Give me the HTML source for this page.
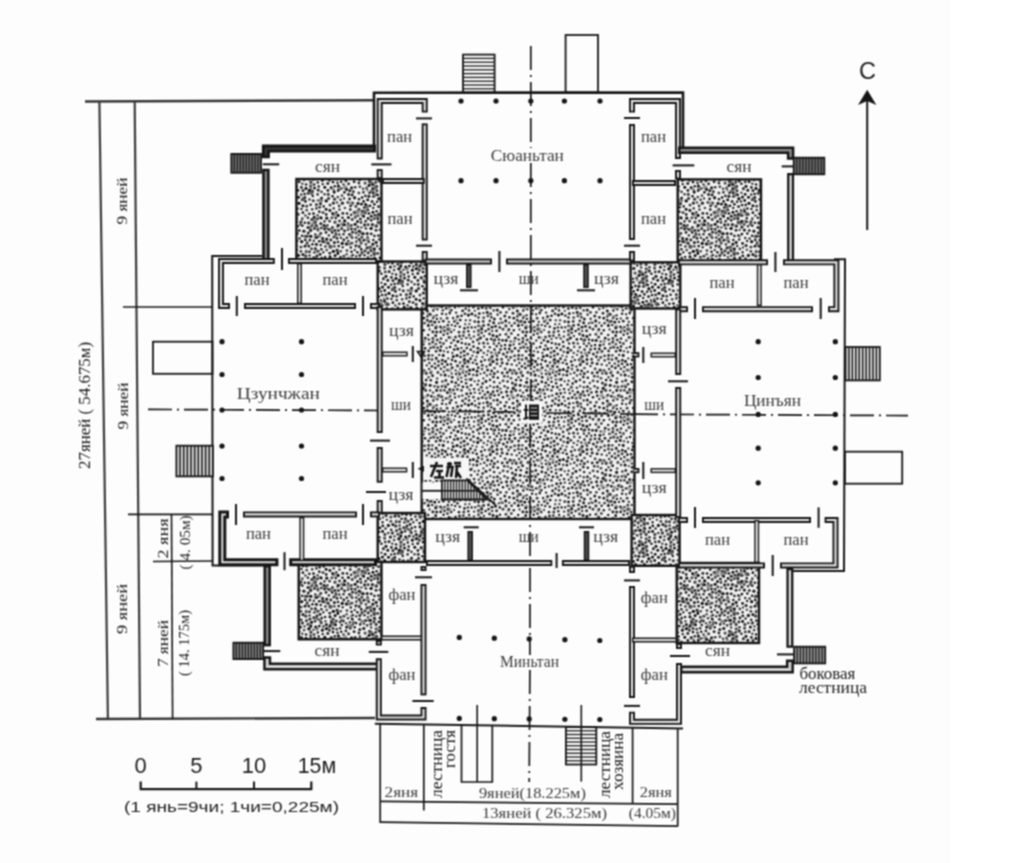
<!DOCTYPE html>
<html><head><meta charset="utf-8"><style>
html,body{margin:0;padding:0;background:#fff;}
svg{display:block;}
text{fill:#1c1c1c;} text.b{fill:#3a3a3a;}
</style></head><body>
<svg width="1031" height="863" viewBox="0 0 1031 863">
<defs><pattern id="st" width="90" height="90" patternUnits="userSpaceOnUse"><rect width="90" height="90" fill="#f3f3f3"/><circle cx="20.4" cy="43.0" r="2.18" fill="rgb(128,128,128)"/><circle cx="40.0" cy="78.8" r="1.61" fill="rgb(119,119,119)"/><circle cx="40.7" cy="5.6" r="1.76" fill="rgb(131,131,131)"/><circle cx="8.6" cy="80.3" r="1.46" fill="rgb(121,121,121)"/><circle cx="13.2" cy="3.8" r="2.17" fill="rgb(159,159,159)"/><circle cx="52.6" cy="60.9" r="1.86" fill="rgb(112,112,112)"/><circle cx="14.9" cy="79.2" r="1.58" fill="rgb(132,132,132)"/><circle cx="11.5" cy="11.2" r="1.78" fill="rgb(105,105,105)"/><circle cx="46.3" cy="71.6" r="2.05" fill="rgb(159,159,159)"/><circle cx="56.2" cy="61.9" r="2.31" fill="rgb(148,148,148)"/><circle cx="79.4" cy="64.1" r="1.71" fill="rgb(119,119,119)"/><circle cx="85.7" cy="35.8" r="2.05" fill="rgb(159,159,159)"/><circle cx="4.6" cy="31.5" r="2.01" fill="rgb(107,107,107)"/><circle cx="7.6" cy="59.6" r="2.26" fill="rgb(138,138,138)"/><circle cx="45.5" cy="45.5" r="1.52" fill="rgb(135,135,135)"/><circle cx="80.9" cy="55.8" r="2.05" fill="rgb(138,138,138)"/><circle cx="85.3" cy="49.3" r="1.56" fill="rgb(104,104,104)"/><circle cx="2.1" cy="34.4" r="2.09" fill="rgb(144,144,144)"/><circle cx="92.1" cy="34.4" r="2.09" fill="rgb(144,144,144)"/><circle cx="19.7" cy="56.3" r="1.65" fill="rgb(159,159,159)"/><circle cx="43.5" cy="39.4" r="2.16" fill="rgb(131,131,131)"/><circle cx="45.7" cy="78.0" r="1.66" fill="rgb(109,109,109)"/><circle cx="0.6" cy="61.4" r="1.53" fill="rgb(146,146,146)"/><circle cx="90.6" cy="61.4" r="1.53" fill="rgb(146,146,146)"/><circle cx="39.3" cy="-1.7" r="1.87" fill="rgb(102,102,102)"/><circle cx="39.3" cy="88.3" r="1.87" fill="rgb(102,102,102)"/><circle cx="86.2" cy="65.2" r="1.65" fill="rgb(151,151,151)"/><circle cx="6.8" cy="26.5" r="2.27" fill="rgb(114,114,114)"/><circle cx="14.6" cy="8.9" r="2.39" fill="rgb(144,144,144)"/><circle cx="15.5" cy="13.4" r="1.89" fill="rgb(153,153,153)"/><circle cx="17.4" cy="36.1" r="2.33" fill="rgb(123,123,123)"/><circle cx="63.7" cy="10.1" r="1.49" fill="rgb(122,122,122)"/><circle cx="36.6" cy="64.0" r="1.61" fill="rgb(124,124,124)"/><circle cx="55.6" cy="47.1" r="2.35" fill="rgb(114,114,114)"/><circle cx="24.2" cy="28.9" r="1.43" fill="rgb(123,123,123)"/><circle cx="30.4" cy="44.3" r="1.63" fill="rgb(101,101,101)"/><circle cx="40.8" cy="83.4" r="2.06" fill="rgb(152,152,152)"/><circle cx="40.6" cy="9.8" r="1.80" fill="rgb(117,117,117)"/><circle cx="21.5" cy="32.3" r="1.54" fill="rgb(148,148,148)"/><circle cx="33.5" cy="19.1" r="2.25" fill="rgb(104,104,104)"/><circle cx="75.2" cy="7.6" r="2.31" fill="rgb(149,149,149)"/><circle cx="43.0" cy="43.6" r="1.80" fill="rgb(141,141,141)"/><circle cx="39.4" cy="12.2" r="2.00" fill="rgb(109,109,109)"/><circle cx="64.2" cy="34.6" r="2.20" fill="rgb(151,151,151)"/><circle cx="24.9" cy="41.1" r="1.51" fill="rgb(139,139,139)"/><circle cx="35.4" cy="56.4" r="2.02" fill="rgb(100,100,100)"/><circle cx="-2.5" cy="31.9" r="2.29" fill="rgb(139,139,139)"/><circle cx="87.5" cy="31.9" r="2.29" fill="rgb(139,139,139)"/><circle cx="80.3" cy="86.3" r="2.14" fill="rgb(122,122,122)"/><circle cx="48.9" cy="56.1" r="1.95" fill="rgb(103,103,103)"/><circle cx="15.7" cy="46.0" r="2.09" fill="rgb(159,159,159)"/><circle cx="60.9" cy="49.9" r="2.10" fill="rgb(126,126,126)"/><circle cx="10.7" cy="67.9" r="2.09" fill="rgb(151,151,151)"/><circle cx="57.7" cy="-1.7" r="1.96" fill="rgb(129,129,129)"/><circle cx="57.7" cy="88.3" r="1.96" fill="rgb(129,129,129)"/><circle cx="63.8" cy="83.8" r="2.13" fill="rgb(106,106,106)"/><circle cx="19.5" cy="34.4" r="2.26" fill="rgb(121,121,121)"/><circle cx="78.2" cy="85.5" r="1.61" fill="rgb(143,143,143)"/><circle cx="10.5" cy="80.1" r="1.67" fill="rgb(131,131,131)"/><circle cx="66.3" cy="55.5" r="1.41" fill="rgb(143,143,143)"/><circle cx="14.0" cy="72.3" r="2.13" fill="rgb(136,136,136)"/><circle cx="47.8" cy="48.5" r="1.68" fill="rgb(120,120,120)"/><circle cx="49.5" cy="37.4" r="1.55" fill="rgb(160,160,160)"/><circle cx="41.8" cy="13.5" r="1.84" fill="rgb(106,106,106)"/><circle cx="16.0" cy="6.9" r="2.06" fill="rgb(101,101,101)"/><circle cx="1.5" cy="53.0" r="1.89" fill="rgb(128,128,128)"/><circle cx="91.5" cy="53.0" r="1.89" fill="rgb(128,128,128)"/><circle cx="78.3" cy="46.5" r="2.16" fill="rgb(140,140,140)"/><circle cx="62.5" cy="80.0" r="2.25" fill="rgb(135,135,135)"/><circle cx="31.1" cy="41.8" r="2.00" fill="rgb(142,142,142)"/><circle cx="83.6" cy="82.3" r="1.67" fill="rgb(101,101,101)"/><circle cx="60.4" cy="66.8" r="2.36" fill="rgb(123,123,123)"/><circle cx="40.1" cy="47.7" r="1.97" fill="rgb(129,129,129)"/><circle cx="50.3" cy="80.4" r="1.61" fill="rgb(110,110,110)"/><circle cx="80.9" cy="76.5" r="1.62" fill="rgb(154,154,154)"/><circle cx="71.5" cy="80.3" r="1.59" fill="rgb(114,114,114)"/><circle cx="10.8" cy="2.4" r="2.12" fill="rgb(119,119,119)"/><circle cx="10.8" cy="92.4" r="2.12" fill="rgb(119,119,119)"/><circle cx="67.5" cy="46.8" r="1.60" fill="rgb(144,144,144)"/><circle cx="14.6" cy="15.9" r="1.68" fill="rgb(119,119,119)"/><circle cx="47.1" cy="-1.1" r="1.84" fill="rgb(131,131,131)"/><circle cx="47.1" cy="88.9" r="1.84" fill="rgb(131,131,131)"/><circle cx="81.3" cy="23.8" r="2.29" fill="rgb(159,159,159)"/><circle cx="26.6" cy="34.1" r="2.29" fill="rgb(116,116,116)"/><circle cx="49.4" cy="55.3" r="1.65" fill="rgb(141,141,141)"/><circle cx="67.6" cy="71.2" r="1.73" fill="rgb(117,117,117)"/><circle cx="36.2" cy="70.8" r="1.50" fill="rgb(149,149,149)"/><circle cx="35.4" cy="76.0" r="1.83" fill="rgb(129,129,129)"/><circle cx="82.1" cy="23.4" r="2.22" fill="rgb(153,153,153)"/><circle cx="72.3" cy="44.4" r="2.23" fill="rgb(130,130,130)"/><circle cx="-0.8" cy="66.7" r="1.91" fill="rgb(157,157,157)"/><circle cx="89.2" cy="66.7" r="1.91" fill="rgb(157,157,157)"/><circle cx="7.3" cy="9.9" r="1.67" fill="rgb(146,146,146)"/><circle cx="2.1" cy="81.5" r="2.08" fill="rgb(135,135,135)"/><circle cx="92.1" cy="81.5" r="2.08" fill="rgb(135,135,135)"/><circle cx="69.3" cy="8.5" r="2.29" fill="rgb(143,143,143)"/><circle cx="61.4" cy="84.3" r="1.91" fill="rgb(138,138,138)"/><circle cx="9.3" cy="67.4" r="1.66" fill="rgb(118,118,118)"/><circle cx="45.3" cy="57.5" r="1.67" fill="rgb(134,134,134)"/><circle cx="50.9" cy="20.6" r="2.24" fill="rgb(132,132,132)"/><circle cx="40.7" cy="50.4" r="1.66" fill="rgb(44,44,44)"/><circle cx="41.9" cy="45.7" r="1.49" fill="rgb(75,75,75)"/><circle cx="16.6" cy="46.1" r="1.51" fill="rgb(49,49,49)"/><circle cx="71.4" cy="8.5" r="1.35" fill="rgb(67,67,67)"/><circle cx="8.2" cy="72.9" r="1.55" fill="rgb(57,57,57)"/><circle cx="3.8" cy="-1.6" r="1.68" fill="rgb(42,42,42)"/><circle cx="3.8" cy="88.4" r="1.68" fill="rgb(42,42,42)"/><circle cx="58.9" cy="55.4" r="1.28" fill="rgb(62,62,62)"/><circle cx="1.4" cy="47.6" r="1.23" fill="rgb(69,69,69)"/><circle cx="91.4" cy="47.6" r="1.23" fill="rgb(69,69,69)"/><circle cx="17.1" cy="21.8" r="1.22" fill="rgb(24,24,24)"/><circle cx="41.8" cy="39.6" r="1.62" fill="rgb(67,67,67)"/><circle cx="46.7" cy="57.6" r="1.45" fill="rgb(16,16,16)"/><circle cx="59.6" cy="41.2" r="1.34" fill="rgb(49,49,49)"/><circle cx="-0.2" cy="-0.4" r="1.62" fill="rgb(51,51,51)"/><circle cx="-0.2" cy="89.6" r="1.62" fill="rgb(51,51,51)"/><circle cx="89.8" cy="-0.4" r="1.62" fill="rgb(51,51,51)"/><circle cx="89.8" cy="89.6" r="1.62" fill="rgb(51,51,51)"/><circle cx="63.7" cy="28.4" r="1.31" fill="rgb(62,62,62)"/><circle cx="26.0" cy="6.3" r="1.58" fill="rgb(27,27,27)"/><circle cx="36.0" cy="76.2" r="1.39" fill="rgb(60,60,60)"/><circle cx="86.2" cy="76.3" r="1.20" fill="rgb(50,50,50)"/><circle cx="18.9" cy="81.9" r="1.43" fill="rgb(31,31,31)"/><circle cx="-1.8" cy="35.8" r="1.24" fill="rgb(65,65,65)"/><circle cx="88.2" cy="35.8" r="1.24" fill="rgb(65,65,65)"/><circle cx="56.7" cy="70.1" r="1.33" fill="rgb(62,62,62)"/><circle cx="7.8" cy="29.9" r="1.68" fill="rgb(71,71,71)"/><circle cx="68.2" cy="10.6" r="1.32" fill="rgb(12,12,12)"/><circle cx="9.1" cy="5.4" r="1.60" fill="rgb(22,22,22)"/><circle cx="16.0" cy="50.3" r="1.42" fill="rgb(22,22,22)"/><circle cx="17.2" cy="65.9" r="1.27" fill="rgb(46,46,46)"/><circle cx="57.9" cy="10.5" r="1.41" fill="rgb(32,32,32)"/><circle cx="87.4" cy="72.3" r="1.35" fill="rgb(34,34,34)"/><circle cx="79.6" cy="19.0" r="1.40" fill="rgb(22,22,22)"/><circle cx="76.9" cy="57.8" r="1.25" fill="rgb(22,22,22)"/><circle cx="-1.0" cy="19.2" r="1.33" fill="rgb(37,37,37)"/><circle cx="89.0" cy="19.2" r="1.33" fill="rgb(37,37,37)"/><circle cx="69.5" cy="29.6" r="1.35" fill="rgb(69,69,69)"/><circle cx="6.6" cy="8.1" r="1.49" fill="rgb(73,73,73)"/><circle cx="21.9" cy="54.1" r="1.39" fill="rgb(20,20,20)"/><circle cx="40.8" cy="86.3" r="1.44" fill="rgb(14,14,14)"/><circle cx="51.7" cy="78.0" r="1.29" fill="rgb(21,21,21)"/><circle cx="13.9" cy="81.8" r="1.61" fill="rgb(60,60,60)"/><circle cx="22.5" cy="17.1" r="1.57" fill="rgb(28,28,28)"/><circle cx="84.6" cy="17.7" r="1.68" fill="rgb(28,28,28)"/><circle cx="79.4" cy="54.3" r="1.41" fill="rgb(41,41,41)"/><circle cx="63.4" cy="23.1" r="1.61" fill="rgb(40,40,40)"/><circle cx="53.7" cy="26.4" r="1.29" fill="rgb(33,33,33)"/><circle cx="64.8" cy="6.2" r="1.31" fill="rgb(31,31,31)"/><circle cx="1.5" cy="24.2" r="1.42" fill="rgb(11,11,11)"/><circle cx="91.5" cy="24.2" r="1.42" fill="rgb(11,11,11)"/><circle cx="5.4" cy="15.9" r="1.38" fill="rgb(43,43,43)"/><circle cx="51.5" cy="11.8" r="1.38" fill="rgb(64,64,64)"/><circle cx="80.2" cy="-1.8" r="1.53" fill="rgb(71,71,71)"/><circle cx="80.2" cy="88.2" r="1.53" fill="rgb(71,71,71)"/><circle cx="62.2" cy="52.6" r="1.27" fill="rgb(18,18,18)"/><circle cx="81.9" cy="63.1" r="1.68" fill="rgb(74,74,74)"/><circle cx="1.9" cy="57.3" r="1.44" fill="rgb(58,58,58)"/><circle cx="91.9" cy="57.3" r="1.44" fill="rgb(58,58,58)"/><circle cx="-0.1" cy="6.8" r="1.47" fill="rgb(73,73,73)"/><circle cx="89.9" cy="6.8" r="1.47" fill="rgb(73,73,73)"/><circle cx="66.3" cy="81.0" r="1.57" fill="rgb(63,63,63)"/><circle cx="63.3" cy="71.4" r="1.66" fill="rgb(11,11,11)"/><circle cx="31.7" cy="61.7" r="1.65" fill="rgb(18,18,18)"/><circle cx="78.4" cy="37.5" r="1.60" fill="rgb(26,26,26)"/><circle cx="56.2" cy="34.4" r="1.49" fill="rgb(43,43,43)"/><circle cx="54.8" cy="7.2" r="1.52" fill="rgb(11,11,11)"/><circle cx="-0.6" cy="79.2" r="1.56" fill="rgb(68,68,68)"/><circle cx="89.4" cy="79.2" r="1.56" fill="rgb(68,68,68)"/><circle cx="35.0" cy="66.2" r="1.49" fill="rgb(29,29,29)"/><circle cx="39.6" cy="75.5" r="1.24" fill="rgb(50,50,50)"/><circle cx="67.5" cy="2.7" r="1.50" fill="rgb(75,75,75)"/><circle cx="43.3" cy="20.7" r="1.55" fill="rgb(54,54,54)"/><circle cx="82.8" cy="23.0" r="1.21" fill="rgb(68,68,68)"/><circle cx="27.1" cy="61.0" r="1.30" fill="rgb(40,40,40)"/><circle cx="80.3" cy="29.4" r="1.53" fill="rgb(67,67,67)"/><circle cx="17.9" cy="38.8" r="1.60" fill="rgb(40,40,40)"/><circle cx="82.3" cy="79.2" r="1.39" fill="rgb(19,19,19)"/><circle cx="12.3" cy="44.7" r="1.62" fill="rgb(40,40,40)"/><circle cx="76.4" cy="64.0" r="1.68" fill="rgb(29,29,29)"/><circle cx="40.6" cy="24.8" r="1.31" fill="rgb(22,22,22)"/><circle cx="37.3" cy="56.3" r="1.45" fill="rgb(55,55,55)"/><circle cx="28.4" cy="75.5" r="1.69" fill="rgb(34,34,34)"/><circle cx="40.7" cy="6.7" r="1.22" fill="rgb(56,56,56)"/><circle cx="78.6" cy="3.7" r="1.55" fill="rgb(56,56,56)"/><circle cx="71.2" cy="1.7" r="1.27" fill="rgb(23,23,23)"/><circle cx="71.2" cy="91.7" r="1.27" fill="rgb(23,23,23)"/><circle cx="40.9" cy="2.2" r="1.61" fill="rgb(61,61,61)"/><circle cx="21.4" cy="12.7" r="1.22" fill="rgb(62,62,62)"/><circle cx="56.7" cy="59.0" r="1.60" fill="rgb(21,21,21)"/><circle cx="86.3" cy="61.6" r="1.30" fill="rgb(50,50,50)"/><circle cx="42.8" cy="16.1" r="1.21" fill="rgb(16,16,16)"/><circle cx="42.5" cy="64.3" r="1.29" fill="rgb(27,27,27)"/><circle cx="24.5" cy="31.1" r="1.55" fill="rgb(32,32,32)"/><circle cx="68.1" cy="35.4" r="1.60" fill="rgb(12,12,12)"/><circle cx="81.6" cy="7.8" r="1.67" fill="rgb(39,39,39)"/><circle cx="40.8" cy="56.3" r="1.65" fill="rgb(13,13,13)"/><circle cx="33.9" cy="51.2" r="1.64" fill="rgb(33,33,33)"/><circle cx="71.7" cy="85.0" r="1.43" fill="rgb(55,55,55)"/><circle cx="58.6" cy="18.4" r="1.56" fill="rgb(56,56,56)"/><circle cx="64.6" cy="19.2" r="1.65" fill="rgb(60,60,60)"/><circle cx="48.3" cy="71.2" r="1.36" fill="rgb(58,58,58)"/><circle cx="31.4" cy="7.4" r="1.42" fill="rgb(30,30,30)"/><circle cx="72.0" cy="15.6" r="1.37" fill="rgb(66,66,66)"/><circle cx="65.1" cy="75.6" r="1.54" fill="rgb(17,17,17)"/><circle cx="85.1" cy="44.3" r="1.67" fill="rgb(26,26,26)"/><circle cx="7.7" cy="19.9" r="1.46" fill="rgb(11,11,11)"/><circle cx="26.1" cy="65.6" r="1.52" fill="rgb(30,30,30)"/><circle cx="47.1" cy="75.9" r="1.48" fill="rgb(34,34,34)"/><circle cx="28.1" cy="34.3" r="1.62" fill="rgb(66,66,66)"/><circle cx="76.6" cy="87.2" r="1.46" fill="rgb(35,35,35)"/><circle cx="51.6" cy="18.1" r="1.47" fill="rgb(28,28,28)"/><circle cx="45.3" cy="54.5" r="1.21" fill="rgb(24,24,24)"/><circle cx="36.1" cy="72.1" r="1.48" fill="rgb(69,69,69)"/><circle cx="5.9" cy="48.5" r="1.41" fill="rgb(71,71,71)"/><circle cx="86.1" cy="83.1" r="1.33" fill="rgb(25,25,25)"/><circle cx="42.6" cy="11.4" r="1.42" fill="rgb(60,60,60)"/><circle cx="73.4" cy="81.0" r="1.44" fill="rgb(43,43,43)"/><circle cx="28.5" cy="17.2" r="1.51" fill="rgb(21,21,21)"/><circle cx="83.3" cy="11.7" r="1.59" fill="rgb(69,69,69)"/><circle cx="2.1" cy="17.5" r="1.31" fill="rgb(11,11,11)"/><circle cx="32.0" cy="55.8" r="1.25" fill="rgb(31,31,31)"/><circle cx="39.3" cy="33.8" r="1.41" fill="rgb(42,42,42)"/><circle cx="47.6" cy="14.4" r="1.30" fill="rgb(41,41,41)"/><circle cx="55.1" cy="77.1" r="1.32" fill="rgb(35,35,35)"/><circle cx="28.3" cy="83.0" r="1.31" fill="rgb(59,59,59)"/><circle cx="12.1" cy="21.5" r="1.56" fill="rgb(39,39,39)"/><circle cx="23.4" cy="8.7" r="1.62" fill="rgb(55,55,55)"/><circle cx="11.3" cy="36.3" r="1.54" fill="rgb(28,28,28)"/><circle cx="61.4" cy="82.0" r="1.68" fill="rgb(54,54,54)"/><circle cx="68.2" cy="45.3" r="1.54" fill="rgb(10,10,10)"/><circle cx="17.0" cy="6.3" r="1.25" fill="rgb(64,64,64)"/><circle cx="13.2" cy="16.6" r="1.30" fill="rgb(47,47,47)"/><circle cx="41.6" cy="68.8" r="1.36" fill="rgb(40,40,40)"/><circle cx="1.2" cy="63.1" r="1.62" fill="rgb(75,75,75)"/><circle cx="91.2" cy="63.1" r="1.62" fill="rgb(75,75,75)"/><circle cx="17.6" cy="14.9" r="1.46" fill="rgb(16,16,16)"/><circle cx="72.2" cy="63.4" r="1.63" fill="rgb(10,10,10)"/><circle cx="54.0" cy="45.4" r="1.69" fill="rgb(49,49,49)"/><circle cx="72.4" cy="23.2" r="1.66" fill="rgb(37,37,37)"/><circle cx="67.0" cy="70.0" r="1.61" fill="rgb(49,49,49)"/><circle cx="36.5" cy="80.7" r="1.64" fill="rgb(70,70,70)"/><circle cx="30.8" cy="42.2" r="1.21" fill="rgb(55,55,55)"/><circle cx="56.2" cy="20.9" r="1.67" fill="rgb(11,11,11)"/><circle cx="59.9" cy="30.4" r="1.53" fill="rgb(32,32,32)"/><circle cx="51.3" cy="48.0" r="1.39" fill="rgb(54,54,54)"/><circle cx="55.4" cy="66.5" r="1.33" fill="rgb(36,36,36)"/><circle cx="36.1" cy="4.5" r="1.30" fill="rgb(25,25,25)"/><circle cx="22.6" cy="81.5" r="1.48" fill="rgb(12,12,12)"/><circle cx="45.7" cy="87.0" r="1.48" fill="rgb(20,20,20)"/><circle cx="4.1" cy="83.7" r="1.28" fill="rgb(73,73,73)"/><circle cx="37.9" cy="47.4" r="1.50" fill="rgb(37,37,37)"/><circle cx="32.9" cy="25.7" r="1.53" fill="rgb(16,16,16)"/><circle cx="80.8" cy="67.4" r="1.23" fill="rgb(21,21,21)"/><circle cx="38.7" cy="43.0" r="1.69" fill="rgb(52,52,52)"/><circle cx="21.9" cy="47.1" r="1.67" fill="rgb(39,39,39)"/><circle cx="65.0" cy="42.2" r="1.69" fill="rgb(74,74,74)"/><circle cx="73.5" cy="54.3" r="1.26" fill="rgb(40,40,40)"/><circle cx="39.9" cy="60.1" r="1.43" fill="rgb(29,29,29)"/><circle cx="85.7" cy="66.1" r="1.32" fill="rgb(42,42,42)"/><circle cx="10.2" cy="80.3" r="1.59" fill="rgb(27,27,27)"/><circle cx="50.8" cy="53.3" r="1.52" fill="rgb(64,64,64)"/><circle cx="67.8" cy="17.1" r="1.32" fill="rgb(60,60,60)"/><circle cx="5.5" cy="24.4" r="1.41" fill="rgb(12,12,12)"/><circle cx="48.7" cy="6.5" r="1.24" fill="rgb(12,12,12)"/><circle cx="30.9" cy="67.0" r="1.62" fill="rgb(71,71,71)"/><circle cx="72.9" cy="33.2" r="1.53" fill="rgb(44,44,44)"/><circle cx="-1.0" cy="29.3" r="1.47" fill="rgb(68,68,68)"/><circle cx="89.0" cy="29.3" r="1.47" fill="rgb(68,68,68)"/><circle cx="50.8" cy="43.6" r="1.54" fill="rgb(41,41,41)"/><circle cx="26.9" cy="69.8" r="1.24" fill="rgb(74,74,74)"/><circle cx="19.2" cy="59.6" r="1.24" fill="rgb(29,29,29)"/><circle cx="12.9" cy="32.2" r="1.56" fill="rgb(20,20,20)"/><circle cx="33.0" cy="10.6" r="1.55" fill="rgb(48,48,48)"/><circle cx="51.2" cy="82.7" r="1.67" fill="rgb(65,65,65)"/><circle cx="82.2" cy="39.4" r="1.60" fill="rgb(71,71,71)"/><circle cx="27.4" cy="28.6" r="1.40" fill="rgb(34,34,34)"/><circle cx="32.9" cy="32.7" r="1.40" fill="rgb(19,19,19)"/><circle cx="34.9" cy="17.5" r="1.48" fill="rgb(50,50,50)"/><circle cx="71.7" cy="48.7" r="1.62" fill="rgb(67,67,67)"/><circle cx="25.3" cy="2.0" r="1.46" fill="rgb(64,64,64)"/><circle cx="7.6" cy="57.1" r="1.27" fill="rgb(71,71,71)"/><circle cx="67.1" cy="58.4" r="1.32" fill="rgb(28,28,28)"/><circle cx="19.8" cy="68.9" r="1.46" fill="rgb(65,65,65)"/><circle cx="30.4" cy="87.1" r="1.54" fill="rgb(26,26,26)"/><circle cx="44.4" cy="48.4" r="1.56" fill="rgb(62,62,62)"/><circle cx="60.0" cy="76.8" r="1.60" fill="rgb(27,27,27)"/><circle cx="86.2" cy="57.6" r="1.46" fill="rgb(61,61,61)"/><circle cx="37.9" cy="37.8" r="1.27" fill="rgb(21,21,21)"/><circle cx="66.7" cy="-0.8" r="1.39" fill="rgb(67,67,67)"/><circle cx="66.7" cy="89.2" r="1.39" fill="rgb(67,67,67)"/><circle cx="27.8" cy="10.3" r="1.52" fill="rgb(21,21,21)"/><circle cx="5.6" cy="41.3" r="1.49" fill="rgb(61,61,61)"/><circle cx="79.9" cy="82.3" r="1.37" fill="rgb(66,66,66)"/><circle cx="49.3" cy="86.1" r="1.44" fill="rgb(20,20,20)"/><circle cx="46.4" cy="24.7" r="1.70" fill="rgb(72,72,72)"/><circle cx="1.0" cy="42.5" r="1.39" fill="rgb(51,51,51)"/><circle cx="91.0" cy="42.5" r="1.39" fill="rgb(51,51,51)"/><circle cx="54.5" cy="14.2" r="1.28" fill="rgb(52,52,52)"/><circle cx="29.0" cy="23.3" r="1.63" fill="rgb(12,12,12)"/><circle cx="73.9" cy="76.2" r="1.61" fill="rgb(73,73,73)"/><circle cx="86.0" cy="52.8" r="1.63" fill="rgb(75,75,75)"/><circle cx="74.9" cy="28.0" r="1.36" fill="rgb(68,68,68)"/><circle cx="35.3" cy="60.0" r="1.33" fill="rgb(17,17,17)"/><circle cx="50.7" cy="65.1" r="1.37" fill="rgb(44,44,44)"/><circle cx="12.7" cy="8.5" r="1.54" fill="rgb(40,40,40)"/><circle cx="63.0" cy="-1.6" r="1.59" fill="rgb(67,67,67)"/><circle cx="63.0" cy="88.4" r="1.59" fill="rgb(67,67,67)"/><circle cx="14.3" cy="69.0" r="1.65" fill="rgb(25,25,25)"/><circle cx="49.3" cy="31.7" r="1.45" fill="rgb(46,46,46)"/><circle cx="12.8" cy="64.2" r="1.69" fill="rgb(42,42,42)"/><circle cx="46.4" cy="64.4" r="1.62" fill="rgb(41,41,41)"/><circle cx="11.2" cy="87.6" r="1.27" fill="rgb(63,63,63)"/><circle cx="81.4" cy="48.9" r="1.48" fill="rgb(40,40,40)"/><circle cx="50.4" cy="23.8" r="1.65" fill="rgb(42,42,42)"/><circle cx="16.2" cy="-1.2" r="1.67" fill="rgb(74,74,74)"/><circle cx="16.2" cy="88.8" r="1.67" fill="rgb(74,74,74)"/><circle cx="60.4" cy="66.4" r="1.39" fill="rgb(66,66,66)"/><circle cx="53.3" cy="72.3" r="1.21" fill="rgb(44,44,44)"/><circle cx="57.8" cy="3.4" r="1.54" fill="rgb(48,48,48)"/><circle cx="47.3" cy="38.9" r="1.65" fill="rgb(75,75,75)"/><circle cx="65.9" cy="53.8" r="1.58" fill="rgb(59,59,59)"/><circle cx="27.4" cy="53.4" r="1.23" fill="rgb(16,16,16)"/><circle cx="11.2" cy="40.2" r="1.45" fill="rgb(45,45,45)"/><circle cx="62.5" cy="47.4" r="1.32" fill="rgb(40,40,40)"/><circle cx="11.1" cy="48.4" r="1.68" fill="rgb(12,12,12)"/><circle cx="5.6" cy="80.6" r="1.61" fill="rgb(53,53,53)"/><circle cx="52.7" cy="4.1" r="1.22" fill="rgb(17,17,17)"/><circle cx="18.6" cy="26.6" r="1.66" fill="rgb(61,61,61)"/><circle cx="64.2" cy="12.1" r="1.55" fill="rgb(16,16,16)"/><circle cx="60.0" cy="24.9" r="1.52" fill="rgb(64,64,64)"/><circle cx="22.6" cy="72.3" r="1.24" fill="rgb(38,38,38)"/><circle cx="22.1" cy="25.1" r="1.47" fill="rgb(40,40,40)"/><circle cx="-1.1" cy="3.0" r="1.43" fill="rgb(41,41,41)"/><circle cx="88.9" cy="3.0" r="1.43" fill="rgb(41,41,41)"/><circle cx="46.5" cy="45.5" r="1.62" fill="rgb(58,58,58)"/><circle cx="70.8" cy="71.2" r="1.32" fill="rgb(72,72,72)"/><circle cx="3.2" cy="53.7" r="1.56" fill="rgb(18,18,18)"/><circle cx="13.2" cy="28.0" r="1.22" fill="rgb(33,33,33)"/><circle cx="19.5" cy="87.3" r="1.22" fill="rgb(37,37,37)"/><circle cx="-1.2" cy="13.0" r="1.43" fill="rgb(73,73,73)"/><circle cx="88.8" cy="13.0" r="1.43" fill="rgb(73,73,73)"/><circle cx="26.8" cy="38.2" r="1.24" fill="rgb(24,24,24)"/><circle cx="68.7" cy="66.1" r="1.31" fill="rgb(23,23,23)"/><circle cx="21.8" cy="41.5" r="1.67" fill="rgb(27,27,27)"/><circle cx="3.6" cy="36.3" r="1.52" fill="rgb(19,19,19)"/><circle cx="18.4" cy="34.5" r="1.24" fill="rgb(27,27,27)"/><circle cx="84.3" cy="32.4" r="1.58" fill="rgb(63,63,63)"/><circle cx="21.4" cy="3.7" r="1.28" fill="rgb(24,24,24)"/><circle cx="60.0" cy="86.0" r="1.63" fill="rgb(36,36,36)"/><circle cx="8.1" cy="38.5" r="1.40" fill="rgb(14,14,14)"/><circle cx="25.2" cy="14.3" r="1.40" fill="rgb(12,12,12)"/><circle cx="38.0" cy="13.6" r="1.49" fill="rgb(68,68,68)"/><circle cx="63.0" cy="2.1" r="1.40" fill="rgb(18,18,18)"/><circle cx="42.2" cy="29.3" r="1.33" fill="rgb(65,65,65)"/><circle cx="2.1" cy="31.2" r="1.65" fill="rgb(70,70,70)"/><circle cx="3.4" cy="12.2" r="1.45" fill="rgb(66,66,66)"/><circle cx="35.5" cy="21.5" r="1.45" fill="rgb(41,41,41)"/><circle cx="58.5" cy="49.3" r="1.51" fill="rgb(52,52,52)"/><circle cx="31.2" cy="79.8" r="1.36" fill="rgb(42,42,42)"/><circle cx="64.4" cy="62.6" r="1.54" fill="rgb(29,29,29)"/><circle cx="14.4" cy="55.9" r="1.45" fill="rgb(49,49,49)"/><circle cx="78.0" cy="78.3" r="1.23" fill="rgb(52,52,52)"/><circle cx="51.1" cy="37.9" r="1.55" fill="rgb(18,18,18)"/><circle cx="84.7" cy="87.3" r="1.27" fill="rgb(13,13,13)"/><circle cx="61.9" cy="37.7" r="1.52" fill="rgb(70,70,70)"/><circle cx="43.5" cy="33.6" r="1.35" fill="rgb(14,14,14)"/><circle cx="29.1" cy="1.7" r="1.48" fill="rgb(30,30,30)"/><circle cx="29.1" cy="91.7" r="1.48" fill="rgb(30,30,30)"/><circle cx="24.7" cy="20.5" r="1.44" fill="rgb(19,19,19)"/><circle cx="43.5" cy="-0.3" r="1.30" fill="rgb(72,72,72)"/><circle cx="43.5" cy="89.7" r="1.30" fill="rgb(72,72,72)"/><circle cx="78.1" cy="43.6" r="1.41" fill="rgb(61,61,61)"/><circle cx="24.9" cy="84.5" r="1.63" fill="rgb(68,68,68)"/><circle cx="15.8" cy="2.4" r="1.28" fill="rgb(41,41,41)"/><circle cx="27.9" cy="46.3" r="1.21" fill="rgb(51,51,51)"/><circle cx="49.2" cy="61.2" r="1.29" fill="rgb(16,16,16)"/><circle cx="9.5" cy="12.9" r="1.38" fill="rgb(45,45,45)"/><circle cx="-0.6" cy="66.4" r="1.36" fill="rgb(37,37,37)"/><circle cx="89.4" cy="66.4" r="1.36" fill="rgb(37,37,37)"/><circle cx="25.2" cy="57.9" r="1.24" fill="rgb(44,44,44)"/><circle cx="81.5" cy="71.7" r="1.28" fill="rgb(14,14,14)"/><circle cx="55.5" cy="81.2" r="1.24" fill="rgb(74,74,74)"/><circle cx="62.5" cy="16.3" r="1.26" fill="rgb(14,14,14)"/><circle cx="66.3" cy="32.4" r="1.36" fill="rgb(64,64,64)"/><circle cx="56.8" cy="38.2" r="1.61" fill="rgb(19,19,19)"/><circle cx="25.6" cy="78.5" r="1.34" fill="rgb(44,44,44)"/><circle cx="85.9" cy="26.4" r="1.55" fill="rgb(74,74,74)"/><circle cx="76.6" cy="9.4" r="1.63" fill="rgb(35,35,35)"/><circle cx="47.8" cy="2.6" r="1.26" fill="rgb(25,25,25)"/><circle cx="45.1" cy="81.3" r="1.40" fill="rgb(47,47,47)"/><circle cx="32.3" cy="38.7" r="1.43" fill="rgb(73,73,73)"/><circle cx="4.5" cy="75.2" r="1.23" fill="rgb(32,32,32)"/><circle cx="8.9" cy="33.5" r="1.36" fill="rgb(13,13,13)"/><circle cx="53.4" cy="86.5" r="1.38" fill="rgb(74,74,74)"/><circle cx="61.2" cy="7.7" r="1.69" fill="rgb(52,52,52)"/><circle cx="70.9" cy="57.8" r="1.23" fill="rgb(49,49,49)"/><circle cx="31.2" cy="14.7" r="1.37" fill="rgb(67,67,67)"/><circle cx="70.6" cy="19.7" r="1.30" fill="rgb(37,37,37)"/><circle cx="25.7" cy="25.0" r="1.45" fill="rgb(48,48,48)"/><circle cx="78.6" cy="14.4" r="1.63" fill="rgb(54,54,54)"/><circle cx="65.6" cy="84.9" r="1.45" fill="rgb(15,15,15)"/><circle cx="77.0" cy="70.6" r="1.46" fill="rgb(65,65,65)"/><circle cx="84.1" cy="1.8" r="1.44" fill="rgb(33,33,33)"/><circle cx="84.1" cy="91.8" r="1.44" fill="rgb(33,33,33)"/><circle cx="53.2" cy="61.7" r="1.51" fill="rgb(40,40,40)"/><circle cx="36.7" cy="30.2" r="1.37" fill="rgb(66,66,66)"/><circle cx="1.3" cy="69.3" r="1.33" fill="rgb(12,12,12)"/><circle cx="91.3" cy="69.3" r="1.33" fill="rgb(12,12,12)"/><circle cx="16.6" cy="31.3" r="1.22" fill="rgb(19,19,19)"/><circle cx="85.2" cy="7.3" r="1.31" fill="rgb(39,39,39)"/><circle cx="87.5" cy="41.4" r="1.50" fill="rgb(16,16,16)"/><circle cx="8.7" cy="61.9" r="1.37" fill="rgb(51,51,51)"/><circle cx="34.1" cy="0.1" r="1.45" fill="rgb(73,73,73)"/><circle cx="34.1" cy="90.1" r="1.45" fill="rgb(73,73,73)"/><circle cx="8.1" cy="44.8" r="1.44" fill="rgb(43,43,43)"/><circle cx="81.3" cy="45.4" r="1.41" fill="rgb(57,57,57)"/><circle cx="30.9" cy="71.3" r="1.51" fill="rgb(72,72,72)"/><circle cx="46.4" cy="28.4" r="1.34" fill="rgb(54,54,54)"/><circle cx="67.0" cy="22.5" r="1.30" fill="rgb(74,74,74)"/><circle cx="58.3" cy="63.5" r="1.43" fill="rgb(39,39,39)"/><circle cx="19.9" cy="77.9" r="1.45" fill="rgb(24,24,24)"/><circle cx="69.5" cy="41.0" r="1.44" fill="rgb(49,49,49)"/><circle cx="22.6" cy="63.5" r="1.48" fill="rgb(33,33,33)"/><circle cx="72.5" cy="37.8" r="1.27" fill="rgb(17,17,17)"/><circle cx="54.5" cy="41.4" r="1.46" fill="rgb(64,64,64)"/><circle cx="-0.8" cy="51.3" r="1.68" fill="rgb(38,38,38)"/><circle cx="89.2" cy="51.3" r="1.68" fill="rgb(38,38,38)"/><circle cx="45.4" cy="42.2" r="1.46" fill="rgb(43,43,43)"/><circle cx="5.1" cy="3.1" r="1.60" fill="rgb(74,74,74)"/><circle cx="10.1" cy="25.8" r="1.30" fill="rgb(18,18,18)"/><circle cx="34.9" cy="42.7" r="1.22" fill="rgb(18,18,18)"/><circle cx="-0.1" cy="75.5" r="1.53" fill="rgb(37,37,37)"/><circle cx="89.9" cy="75.5" r="1.53" fill="rgb(37,37,37)"/><circle cx="5.9" cy="64.4" r="1.32" fill="rgb(61,61,61)"/><circle cx="18.3" cy="55.5" r="1.28" fill="rgb(25,25,25)"/><circle cx="77.1" cy="33.5" r="1.26" fill="rgb(14,14,14)"/><circle cx="19.2" cy="1.0" r="1.64" fill="rgb(43,43,43)"/><circle cx="19.2" cy="91.0" r="1.64" fill="rgb(43,43,43)"/><circle cx="77.8" cy="22.4" r="1.48" fill="rgb(71,71,71)"/><circle cx="74.4" cy="44.7" r="1.52" fill="rgb(11,11,11)"/><circle cx="17.2" cy="10.8" r="1.24" fill="rgb(24,24,24)"/><circle cx="32.4" cy="83.0" r="1.63" fill="rgb(51,51,51)"/><circle cx="52.4" cy="0.3" r="1.69" fill="rgb(35,35,35)"/><circle cx="52.4" cy="90.3" r="1.69" fill="rgb(35,35,35)"/><circle cx="14.3" cy="74.3" r="1.69" fill="rgb(59,59,59)"/><circle cx="9.5" cy="1.4" r="1.58" fill="rgb(69,69,69)"/><circle cx="9.5" cy="91.4" r="1.58" fill="rgb(69,69,69)"/><circle cx="60.8" cy="59.9" r="1.55" fill="rgb(48,48,48)"/><circle cx="56.2" cy="-1.3" r="1.50" fill="rgb(12,12,12)"/><circle cx="56.2" cy="88.7" r="1.50" fill="rgb(12,12,12)"/><circle cx="11.2" cy="53.8" r="1.41" fill="rgb(22,22,22)"/><circle cx="47.8" cy="20.4" r="1.21" fill="rgb(75,75,75)"/><circle cx="22.0" cy="35.4" r="1.60" fill="rgb(61,61,61)"/><circle cx="74.4" cy="12.3" r="1.35" fill="rgb(23,23,23)"/><circle cx="78.0" cy="49.8" r="1.28" fill="rgb(47,47,47)"/><circle cx="52.6" cy="58.2" r="1.52" fill="rgb(34,34,34)"/><circle cx="56.0" cy="52.4" r="1.36" fill="rgb(23,23,23)"/><circle cx="26.6" cy="41.8" r="1.54" fill="rgb(54,54,54)"/><circle cx="69.1" cy="26.0" r="1.39" fill="rgb(56,56,56)"/><circle cx="38.9" cy="66.1" r="1.56" fill="rgb(46,46,46)"/><circle cx="8.0" cy="77.3" r="1.20" fill="rgb(59,59,59)"/><circle cx="44.2" cy="72.5" r="1.34" fill="rgb(72,72,72)"/><circle cx="37.8" cy="84.3" r="1.56" fill="rgb(71,71,71)"/><circle cx="36.0" cy="8.4" r="1.60" fill="rgb(16,16,16)"/><circle cx="13.3" cy="60.0" r="1.32" fill="rgb(31,31,31)"/><circle cx="24.4" cy="50.1" r="1.57" fill="rgb(29,29,29)"/><circle cx="10.5" cy="67.0" r="1.29" fill="rgb(72,72,72)"/><circle cx="39.5" cy="19.5" r="1.34" fill="rgb(55,55,55)"/><circle cx="5.0" cy="70.9" r="1.58" fill="rgb(55,55,55)"/><circle cx="74.1" cy="18.4" r="1.21" fill="rgb(46,46,46)"/><circle cx="62.6" cy="33.5" r="1.50" fill="rgb(22,22,22)"/><circle cx="21.0" cy="21.5" r="1.24" fill="rgb(39,39,39)"/><circle cx="3.6" cy="21.4" r="1.33" fill="rgb(15,15,15)"/><circle cx="64.3" cy="66.3" r="1.38" fill="rgb(69,69,69)"/><circle cx="43.8" cy="77.7" r="1.70" fill="rgb(73,73,73)"/><circle cx="-1.4" cy="55.1" r="1.22" fill="rgb(55,55,55)"/><circle cx="88.6" cy="55.1" r="1.22" fill="rgb(55,55,55)"/><circle cx="82.7" cy="75.2" r="1.40" fill="rgb(52,52,52)"/><circle cx="31.4" cy="28.9" r="1.22" fill="rgb(22,22,22)"/><circle cx="23.0" cy="67.5" r="1.24" fill="rgb(74,74,74)"/><circle cx="36.7" cy="26.3" r="1.45" fill="rgb(61,61,61)"/><circle cx="70.4" cy="77.3" r="1.45" fill="rgb(65,65,65)"/><circle cx="45.4" cy="68.8" r="1.69" fill="rgb(61,61,61)"/><circle cx="63.4" cy="79.1" r="1.23" fill="rgb(57,57,57)"/><circle cx="32.4" cy="45.7" r="1.34" fill="rgb(49,49,49)"/><circle cx="0.2" cy="84.4" r="1.33" fill="rgb(27,27,27)"/><circle cx="90.2" cy="84.4" r="1.33" fill="rgb(27,27,27)"/><circle cx="32.9" cy="74.6" r="1.61" fill="rgb(34,34,34)"/><circle cx="16.1" cy="84.5" r="1.63" fill="rgb(61,61,61)"/><circle cx="38.7" cy="-0.9" r="1.33" fill="rgb(10,10,10)"/><circle cx="38.7" cy="89.1" r="1.33" fill="rgb(10,10,10)"/><circle cx="68.4" cy="50.6" r="1.43" fill="rgb(32,32,32)"/><circle cx="16.2" cy="62.5" r="1.69" fill="rgb(36,36,36)"/><circle cx="14.4" cy="78.2" r="1.61" fill="rgb(49,49,49)"/><circle cx="18.9" cy="18.7" r="1.69" fill="rgb(19,19,19)"/><circle cx="18.2" cy="42.4" r="1.69" fill="rgb(70,70,70)"/><circle cx="87.9" cy="46.9" r="1.42" fill="rgb(56,56,56)"/><circle cx="19.6" cy="49.9" r="1.22" fill="rgb(70,70,70)"/><circle cx="85.3" cy="37.5" r="1.44" fill="rgb(74,74,74)"/><circle cx="58.3" cy="14.4" r="1.63" fill="rgb(65,65,65)"/><circle cx="56.1" cy="29.2" r="1.50" fill="rgb(18,18,18)"/><circle cx="44.5" cy="8.1" r="1.52" fill="rgb(25,25,25)"/><circle cx="3.9" cy="60.2" r="1.45" fill="rgb(34,34,34)"/><circle cx="34.5" cy="86.4" r="1.21" fill="rgb(56,56,56)"/><circle cx="59.7" cy="73.2" r="1.33" fill="rgb(30,30,30)"/><circle cx="12.6" cy="4.6" r="1.53" fill="rgb(37,37,37)"/><circle cx="51.4" cy="69.3" r="1.30" fill="rgb(22,22,22)"/><circle cx="7.2" cy="85.4" r="1.32" fill="rgb(54,54,54)"/><circle cx="81.2" cy="34.8" r="1.33" fill="rgb(43,43,43)"/><circle cx="14.3" cy="38.7" r="1.35" fill="rgb(42,42,42)"/><circle cx="32.0" cy="20.0" r="1.34" fill="rgb(64,64,64)"/><circle cx="24.2" cy="44.4" r="1.41" fill="rgb(68,68,68)"/><circle cx="72.7" cy="67.2" r="1.20" fill="rgb(47,47,47)"/><circle cx="53.0" cy="32.6" r="1.47" fill="rgb(43,43,43)"/><circle cx="48.2" cy="10.1" r="1.64" fill="rgb(43,43,43)"/><circle cx="75.9" cy="0.9" r="1.43" fill="rgb(38,38,38)"/><circle cx="75.9" cy="90.9" r="1.43" fill="rgb(38,38,38)"/><circle cx="41.7" cy="82.2" r="1.38" fill="rgb(15,15,15)"/><circle cx="-2.0" cy="23.4" r="1.66" fill="rgb(27,27,27)"/><circle cx="88.0" cy="23.4" r="1.66" fill="rgb(27,27,27)"/><circle cx="13.1" cy="13.1" r="1.49" fill="rgb(43,43,43)"/><circle cx="76.8" cy="74.2" r="1.30" fill="rgb(75,75,75)"/><circle cx="57.5" cy="45.2" r="1.21" fill="rgb(59,59,59)"/><circle cx="43.8" cy="60.9" r="1.39" fill="rgb(75,75,75)"/><circle cx="84.8" cy="69.9" r="1.23" fill="rgb(62,62,62)"/><circle cx="82.1" cy="57.7" r="1.48" fill="rgb(71,71,71)"/><circle cx="68.0" cy="62.0" r="1.29" fill="rgb(25,25,25)"/><circle cx="7.2" cy="53.6" r="1.58" fill="rgb(30,30,30)"/><circle cx="73.5" cy="4.5" r="1.32" fill="rgb(65,65,65)"/><circle cx="24.6" cy="-1.9" r="1.64" fill="rgb(71,71,71)"/><circle cx="24.6" cy="88.1" r="1.64" fill="rgb(71,71,71)"/><circle cx="4.6" cy="45.0" r="1.66" fill="rgb(46,46,46)"/><circle cx="5.4" cy="33.3" r="1.28" fill="rgb(70,70,70)"/><circle cx="84.9" cy="49.1" r="1.38" fill="rgb(62,62,62)"/><circle cx="10.9" cy="70.7" r="1.58" fill="rgb(67,67,67)"/><circle cx="64.0" cy="56.9" r="1.68" fill="rgb(66,66,66)"/><circle cx="-0.7" cy="59.5" r="1.65" fill="rgb(60,60,60)"/><circle cx="89.3" cy="59.5" r="1.65" fill="rgb(60,60,60)"/><circle cx="17.7" cy="73.5" r="1.40" fill="rgb(45,45,45)"/><circle cx="44.1" cy="4.6" r="1.36" fill="rgb(41,41,41)"/><circle cx="74.7" cy="40.9" r="1.69" fill="rgb(12,12,12)"/><circle cx="29.6" cy="58.6" r="1.23" fill="rgb(33,33,33)"/><circle cx="29.3" cy="50.5" r="1.32" fill="rgb(12,12,12)"/><circle cx="80.6" cy="25.9" r="1.22" fill="rgb(20,20,20)"/><circle cx="21.0" cy="30.2" r="1.22" fill="rgb(59,59,59)"/><circle cx="56.3" cy="84.6" r="1.58" fill="rgb(34,34,34)"/><circle cx="0.4" cy="39.1" r="1.55" fill="rgb(49,49,49)"/><circle cx="90.4" cy="39.1" r="1.55" fill="rgb(49,49,49)"/><circle cx="47.5" cy="35.3" r="1.31" fill="rgb(73,73,73)"/><circle cx="8.9" cy="16.3" r="1.66" fill="rgb(39,39,39)"/><circle cx="54.6" cy="49.2" r="1.39" fill="rgb(33,33,33)"/><circle cx="65.8" cy="38.1" r="1.39" fill="rgb(42,42,42)"/><circle cx="32.3" cy="3.8" r="1.25" fill="rgb(63,63,63)"/><circle cx="14.4" cy="24.3" r="1.37" fill="rgb(25,25,25)"/><circle cx="70.1" cy="-1.7" r="1.30" fill="rgb(35,35,35)"/><circle cx="70.1" cy="88.3" r="1.30" fill="rgb(35,35,35)"/><circle cx="4.2" cy="27.6" r="1.45" fill="rgb(49,49,49)"/><circle cx="69.4" cy="54.6" r="1.28" fill="rgb(57,57,57)"/><circle cx="48.0" cy="50.0" r="1.56" fill="rgb(74,74,74)"/><circle cx="59.5" cy="0.3" r="1.39" fill="rgb(40,40,40)"/><circle cx="59.5" cy="90.3" r="1.39" fill="rgb(40,40,40)"/><circle cx="68.4" cy="6.0" r="1.49" fill="rgb(18,18,18)"/><circle cx="38.3" cy="52.9" r="1.49" fill="rgb(36,36,36)"/><circle cx="78.3" cy="61.1" r="1.47" fill="rgb(66,66,66)"/><circle cx="76.0" cy="83.3" r="1.26" fill="rgb(74,74,74)"/><circle cx="35.4" cy="35.5" r="1.29" fill="rgb(63,63,63)"/><circle cx="11.1" cy="75.8" r="1.20" fill="rgb(62,62,62)"/><circle cx="14.7" cy="35.2" r="1.34" fill="rgb(54,54,54)"/><circle cx="39.8" cy="79.3" r="1.29" fill="rgb(43,43,43)"/><circle cx="48.2" cy="79.2" r="1.26" fill="rgb(65,65,65)"/><circle cx="67.9" cy="73.5" r="1.47" fill="rgb(13,13,13)"/><circle cx="39.5" cy="71.8" r="1.51" fill="rgb(53,53,53)"/><circle cx="49.7" cy="27.3" r="1.38" fill="rgb(41,41,41)"/><circle cx="64.9" cy="50.4" r="1.68" fill="rgb(60,60,60)"/><circle cx="10.8" cy="84.1" r="1.59" fill="rgb(62,62,62)"/><circle cx="39.3" cy="10.2" r="1.54" fill="rgb(19,19,19)"/><circle cx="73.8" cy="59.8" r="1.58" fill="rgb(47,47,47)"/><circle cx="82.5" cy="52.2" r="1.47" fill="rgb(40,40,40)"/><circle cx="22.8" cy="75.9" r="1.44" fill="rgb(28,28,28)"/><circle cx="70.0" cy="81.9" r="1.25" fill="rgb(39,39,39)"/><circle cx="2.0" cy="72.8" r="1.68" fill="rgb(63,63,63)"/><circle cx="82.8" cy="84.4" r="1.24" fill="rgb(71,71,71)"/><circle cx="50.1" cy="74.4" r="1.43" fill="rgb(15,15,15)"/><circle cx="82.1" cy="15.0" r="1.44" fill="rgb(23,23,23)"/><circle cx="7.0" cy="67.9" r="1.54" fill="rgb(50,50,50)"/><circle cx="3.1" cy="8.7" r="1.22" fill="rgb(47,47,47)"/><circle cx="34.6" cy="14.0" r="1.24" fill="rgb(11,11,11)"/><circle cx="74.6" cy="50.9" r="1.54" fill="rgb(51,51,51)"/><circle cx="37.3" cy="62.8" r="1.45" fill="rgb(69,69,69)"/><circle cx="44.2" cy="37.2" r="1.37" fill="rgb(11,11,11)"/><circle cx="79.8" cy="10.8" r="1.46" fill="rgb(19,19,19)"/></pattern><pattern id="stc" width="90" height="90" patternUnits="userSpaceOnUse"><rect width="90" height="90" fill="#f3f3f3"/><circle cx="76.4" cy="-1.0" r="1.65" fill="rgb(156,156,156)"/><circle cx="76.4" cy="89.0" r="1.65" fill="rgb(156,156,156)"/><circle cx="0.7" cy="32.6" r="1.80" fill="rgb(156,156,156)"/><circle cx="90.7" cy="32.6" r="1.80" fill="rgb(156,156,156)"/><circle cx="41.7" cy="33.3" r="1.59" fill="rgb(179,179,179)"/><circle cx="41.0" cy="-1.4" r="2.15" fill="rgb(147,147,147)"/><circle cx="41.0" cy="88.6" r="2.15" fill="rgb(147,147,147)"/><circle cx="65.0" cy="25.5" r="1.75" fill="rgb(137,137,137)"/><circle cx="8.8" cy="12.2" r="1.79" fill="rgb(152,152,152)"/><circle cx="13.1" cy="9.8" r="1.60" fill="rgb(151,151,151)"/><circle cx="-1.7" cy="38.3" r="1.82" fill="rgb(160,160,160)"/><circle cx="88.3" cy="38.3" r="1.82" fill="rgb(160,160,160)"/><circle cx="19.1" cy="2.9" r="1.57" fill="rgb(171,171,171)"/><circle cx="19.1" cy="92.9" r="1.57" fill="rgb(171,171,171)"/><circle cx="7.9" cy="16.9" r="1.43" fill="rgb(162,162,162)"/><circle cx="-0.1" cy="10.3" r="2.10" fill="rgb(168,168,168)"/><circle cx="89.9" cy="10.3" r="2.10" fill="rgb(168,168,168)"/><circle cx="42.7" cy="34.4" r="1.71" fill="rgb(174,174,174)"/><circle cx="69.0" cy="51.9" r="1.69" fill="rgb(133,133,133)"/><circle cx="29.1" cy="69.0" r="1.38" fill="rgb(130,130,130)"/><circle cx="64.2" cy="71.3" r="1.75" fill="rgb(149,149,149)"/><circle cx="74.5" cy="37.3" r="1.83" fill="rgb(152,152,152)"/><circle cx="72.9" cy="76.9" r="1.85" fill="rgb(154,154,154)"/><circle cx="1.0" cy="67.6" r="1.62" fill="rgb(170,170,170)"/><circle cx="91.0" cy="67.6" r="1.62" fill="rgb(170,170,170)"/><circle cx="19.2" cy="67.1" r="1.89" fill="rgb(176,176,176)"/><circle cx="82.1" cy="58.7" r="1.69" fill="rgb(149,149,149)"/><circle cx="61.4" cy="81.7" r="2.07" fill="rgb(168,168,168)"/><circle cx="43.8" cy="70.6" r="2.01" fill="rgb(133,133,133)"/><circle cx="66.3" cy="36.5" r="1.86" fill="rgb(178,178,178)"/><circle cx="31.3" cy="56.7" r="1.80" fill="rgb(158,158,158)"/><circle cx="28.6" cy="61.0" r="1.92" fill="rgb(146,146,146)"/><circle cx="77.6" cy="26.8" r="2.08" fill="rgb(178,178,178)"/><circle cx="-2.0" cy="59.1" r="2.18" fill="rgb(130,130,130)"/><circle cx="88.0" cy="59.1" r="2.18" fill="rgb(130,130,130)"/><circle cx="19.1" cy="19.5" r="1.76" fill="rgb(160,160,160)"/><circle cx="7.6" cy="6.0" r="2.12" fill="rgb(177,177,177)"/><circle cx="79.4" cy="35.7" r="2.18" fill="rgb(160,160,160)"/><circle cx="62.9" cy="10.8" r="1.97" fill="rgb(160,160,160)"/><circle cx="71.4" cy="11.7" r="1.65" fill="rgb(152,152,152)"/><circle cx="68.7" cy="44.3" r="2.04" fill="rgb(142,142,142)"/><circle cx="74.0" cy="46.3" r="1.58" fill="rgb(135,135,135)"/><circle cx="84.2" cy="25.1" r="1.68" fill="rgb(180,180,180)"/><circle cx="22.0" cy="18.3" r="1.34" fill="rgb(171,171,171)"/><circle cx="39.5" cy="36.3" r="2.11" fill="rgb(170,170,170)"/><circle cx="73.1" cy="71.0" r="1.65" fill="rgb(139,139,139)"/><circle cx="13.8" cy="0.7" r="1.88" fill="rgb(149,149,149)"/><circle cx="13.8" cy="90.7" r="1.88" fill="rgb(149,149,149)"/><circle cx="51.0" cy="52.4" r="1.57" fill="rgb(155,155,155)"/><circle cx="61.7" cy="35.4" r="2.05" fill="rgb(160,160,160)"/><circle cx="-0.2" cy="59.4" r="1.90" fill="rgb(168,168,168)"/><circle cx="89.8" cy="59.4" r="1.90" fill="rgb(168,168,168)"/><circle cx="76.3" cy="56.8" r="2.13" fill="rgb(140,140,140)"/><circle cx="45.6" cy="83.2" r="1.84" fill="rgb(149,149,149)"/><circle cx="40.8" cy="2.9" r="1.33" fill="rgb(154,154,154)"/><circle cx="40.8" cy="92.9" r="1.33" fill="rgb(154,154,154)"/><circle cx="66.1" cy="12.7" r="1.82" fill="rgb(135,135,135)"/><circle cx="0.5" cy="41.2" r="1.45" fill="rgb(132,132,132)"/><circle cx="90.5" cy="41.2" r="1.45" fill="rgb(132,132,132)"/><circle cx="65.0" cy="29.9" r="1.79" fill="rgb(138,138,138)"/><circle cx="57.9" cy="61.1" r="1.71" fill="rgb(180,180,180)"/><circle cx="6.4" cy="50.0" r="1.44" fill="rgb(149,149,149)"/><circle cx="83.2" cy="85.4" r="1.55" fill="rgb(26,26,26)"/><circle cx="7.5" cy="53.3" r="1.34" fill="rgb(42,42,42)"/><circle cx="47.7" cy="11.7" r="1.24" fill="rgb(43,43,43)"/><circle cx="40.0" cy="19.9" r="1.35" fill="rgb(54,54,54)"/><circle cx="2.2" cy="7.7" r="1.47" fill="rgb(44,44,44)"/><circle cx="37.9" cy="46.1" r="1.48" fill="rgb(69,69,69)"/><circle cx="32.3" cy="5.2" r="1.50" fill="rgb(64,64,64)"/><circle cx="53.0" cy="59.2" r="1.43" fill="rgb(58,58,58)"/><circle cx="87.4" cy="32.7" r="1.49" fill="rgb(30,30,30)"/><circle cx="33.2" cy="51.5" r="1.45" fill="rgb(54,54,54)"/><circle cx="28.3" cy="7.7" r="1.36" fill="rgb(32,32,32)"/><circle cx="64.6" cy="53.2" r="1.35" fill="rgb(64,64,64)"/><circle cx="57.8" cy="16.4" r="1.23" fill="rgb(65,65,65)"/><circle cx="29.1" cy="73.4" r="1.24" fill="rgb(37,37,37)"/><circle cx="10.3" cy="8.9" r="1.17" fill="rgb(79,79,79)"/><circle cx="24.8" cy="51.6" r="1.52" fill="rgb(70,70,70)"/><circle cx="29.8" cy="33.3" r="1.28" fill="rgb(56,56,56)"/><circle cx="27.4" cy="70.0" r="1.40" fill="rgb(53,53,53)"/><circle cx="23.3" cy="9.6" r="1.50" fill="rgb(17,17,17)"/><circle cx="63.6" cy="74.6" r="1.26" fill="rgb(71,71,71)"/><circle cx="49.1" cy="82.7" r="1.42" fill="rgb(46,46,46)"/><circle cx="85.1" cy="15.1" r="1.59" fill="rgb(19,19,19)"/><circle cx="5.0" cy="37.5" r="1.16" fill="rgb(20,20,20)"/><circle cx="72.9" cy="61.8" r="1.59" fill="rgb(48,48,48)"/><circle cx="72.4" cy="85.4" r="1.39" fill="rgb(79,79,79)"/><circle cx="-1.1" cy="67.4" r="1.31" fill="rgb(33,33,33)"/><circle cx="88.9" cy="67.4" r="1.31" fill="rgb(33,33,33)"/><circle cx="17.4" cy="6.8" r="1.36" fill="rgb(31,31,31)"/><circle cx="17.7" cy="84.0" r="1.58" fill="rgb(61,61,61)"/><circle cx="48.9" cy="73.2" r="1.26" fill="rgb(48,48,48)"/><circle cx="38.0" cy="81.1" r="1.35" fill="rgb(79,79,79)"/><circle cx="30.8" cy="80.3" r="1.52" fill="rgb(61,61,61)"/><circle cx="80.6" cy="61.9" r="1.34" fill="rgb(22,22,22)"/><circle cx="57.6" cy="21.5" r="1.28" fill="rgb(31,31,31)"/><circle cx="36.9" cy="69.4" r="1.40" fill="rgb(19,19,19)"/><circle cx="9.8" cy="56.8" r="1.30" fill="rgb(35,35,35)"/><circle cx="22.4" cy="85.6" r="1.19" fill="rgb(65,65,65)"/><circle cx="50.6" cy="48.8" r="1.26" fill="rgb(48,48,48)"/><circle cx="50.5" cy="42.4" r="1.35" fill="rgb(54,54,54)"/><circle cx="64.7" cy="0.4" r="1.32" fill="rgb(58,58,58)"/><circle cx="64.7" cy="90.4" r="1.32" fill="rgb(58,58,58)"/><circle cx="70.7" cy="12.8" r="1.54" fill="rgb(76,76,76)"/><circle cx="18.3" cy="61.3" r="1.23" fill="rgb(28,28,28)"/><circle cx="40.4" cy="38.0" r="1.19" fill="rgb(56,56,56)"/><circle cx="63.0" cy="43.2" r="1.46" fill="rgb(50,50,50)"/><circle cx="47.4" cy="26.8" r="1.55" fill="rgb(47,47,47)"/><circle cx="7.8" cy="78.9" r="1.54" fill="rgb(27,27,27)"/><circle cx="44.8" cy="69.9" r="1.45" fill="rgb(56,56,56)"/><circle cx="54.5" cy="26.2" r="1.29" fill="rgb(49,49,49)"/><circle cx="31.4" cy="27.2" r="1.58" fill="rgb(79,79,79)"/><circle cx="37.8" cy="73.5" r="1.36" fill="rgb(64,64,64)"/><circle cx="49.8" cy="23.0" r="1.28" fill="rgb(72,72,72)"/><circle cx="8.0" cy="19.6" r="1.27" fill="rgb(63,63,63)"/><circle cx="76.7" cy="45.2" r="1.20" fill="rgb(60,60,60)"/><circle cx="41.6" cy="10.9" r="1.40" fill="rgb(24,24,24)"/><circle cx="39.8" cy="77.2" r="1.27" fill="rgb(49,49,49)"/><circle cx="76.6" cy="22.3" r="1.59" fill="rgb(22,22,22)"/><circle cx="57.1" cy="3.8" r="1.51" fill="rgb(32,32,32)"/><circle cx="24.8" cy="32.6" r="1.22" fill="rgb(51,51,51)"/><circle cx="75.4" cy="8.1" r="1.48" fill="rgb(43,43,43)"/><circle cx="35.6" cy="61.1" r="1.28" fill="rgb(28,28,28)"/><circle cx="87.9" cy="82.1" r="1.23" fill="rgb(53,53,53)"/><circle cx="1.7" cy="55.0" r="1.21" fill="rgb(56,56,56)"/><circle cx="91.7" cy="55.0" r="1.21" fill="rgb(56,56,56)"/><circle cx="69.4" cy="73.9" r="1.42" fill="rgb(63,63,63)"/><circle cx="77.1" cy="18.5" r="1.34" fill="rgb(80,80,80)"/><circle cx="28.5" cy="55.8" r="1.39" fill="rgb(65,65,65)"/><circle cx="77.3" cy="39.2" r="1.31" fill="rgb(63,63,63)"/><circle cx="58.6" cy="67.0" r="1.57" fill="rgb(60,60,60)"/><circle cx="-1.7" cy="-1.6" r="1.21" fill="rgb(67,67,67)"/><circle cx="-1.7" cy="88.4" r="1.21" fill="rgb(67,67,67)"/><circle cx="88.3" cy="-1.6" r="1.21" fill="rgb(67,67,67)"/><circle cx="88.3" cy="88.4" r="1.21" fill="rgb(67,67,67)"/><circle cx="74.8" cy="3.6" r="1.33" fill="rgb(70,70,70)"/><circle cx="65.2" cy="68.2" r="1.39" fill="rgb(27,27,27)"/><circle cx="18.9" cy="36.6" r="1.18" fill="rgb(39,39,39)"/><circle cx="28.4" cy="38.5" r="1.52" fill="rgb(62,62,62)"/><circle cx="53.0" cy="37.3" r="1.26" fill="rgb(16,16,16)"/><circle cx="28.4" cy="60.4" r="1.35" fill="rgb(74,74,74)"/><circle cx="15.6" cy="74.0" r="1.41" fill="rgb(58,58,58)"/><circle cx="87.1" cy="48.3" r="1.43" fill="rgb(58,58,58)"/><circle cx="38.5" cy="54.7" r="1.56" fill="rgb(49,49,49)"/><circle cx="-1.7" cy="59.5" r="1.34" fill="rgb(64,64,64)"/><circle cx="88.3" cy="59.5" r="1.34" fill="rgb(64,64,64)"/><circle cx="5.6" cy="75.6" r="1.33" fill="rgb(50,50,50)"/><circle cx="63.8" cy="60.2" r="1.27" fill="rgb(29,29,29)"/><circle cx="15.2" cy="54.2" r="1.18" fill="rgb(79,79,79)"/><circle cx="6.1" cy="42.6" r="1.22" fill="rgb(41,41,41)"/><circle cx="57.7" cy="27.9" r="1.43" fill="rgb(56,56,56)"/><circle cx="47.8" cy="17.8" r="1.31" fill="rgb(17,17,17)"/><circle cx="-2.0" cy="24.2" r="1.28" fill="rgb(29,29,29)"/><circle cx="88.0" cy="24.2" r="1.28" fill="rgb(29,29,29)"/><circle cx="44.4" cy="49.1" r="1.51" fill="rgb(32,32,32)"/><circle cx="26.6" cy="86.7" r="1.16" fill="rgb(63,63,63)"/><circle cx="71.1" cy="51.3" r="1.56" fill="rgb(55,55,55)"/><circle cx="13.8" cy="62.0" r="1.58" fill="rgb(63,63,63)"/><circle cx="60.0" cy="10.1" r="1.56" fill="rgb(42,42,42)"/><circle cx="87.3" cy="10.0" r="1.52" fill="rgb(79,79,79)"/><circle cx="51.6" cy="-0.7" r="1.44" fill="rgb(61,61,61)"/><circle cx="51.6" cy="89.3" r="1.44" fill="rgb(61,61,61)"/><circle cx="15.8" cy="19.6" r="1.18" fill="rgb(46,46,46)"/><circle cx="72.9" cy="68.3" r="1.41" fill="rgb(54,54,54)"/><circle cx="57.3" cy="12.5" r="1.51" fill="rgb(37,37,37)"/><circle cx="7.4" cy="29.4" r="1.45" fill="rgb(63,63,63)"/><circle cx="55.1" cy="74.9" r="1.24" fill="rgb(18,18,18)"/><circle cx="12.9" cy="12.6" r="1.41" fill="rgb(80,80,80)"/><circle cx="87.8" cy="55.2" r="1.34" fill="rgb(54,54,54)"/><circle cx="53.4" cy="83.9" r="1.51" fill="rgb(43,43,43)"/><circle cx="64.6" cy="85.7" r="1.56" fill="rgb(77,77,77)"/><circle cx="11.5" cy="45.7" r="1.31" fill="rgb(16,16,16)"/><circle cx="18.5" cy="45.1" r="1.59" fill="rgb(25,25,25)"/><circle cx="69.1" cy="8.9" r="1.26" fill="rgb(54,54,54)"/><circle cx="66.3" cy="13.7" r="1.40" fill="rgb(53,53,53)"/><circle cx="40.2" cy="4.8" r="1.57" fill="rgb(35,35,35)"/><circle cx="23.9" cy="66.5" r="1.36" fill="rgb(76,76,76)"/><circle cx="70.1" cy="30.4" r="1.19" fill="rgb(37,37,37)"/><circle cx="71.3" cy="36.3" r="1.45" fill="rgb(47,47,47)"/><circle cx="33.9" cy="65.9" r="1.23" fill="rgb(66,66,66)"/><circle cx="79.2" cy="85.0" r="1.16" fill="rgb(29,29,29)"/><circle cx="77.3" cy="70.0" r="1.46" fill="rgb(51,51,51)"/><circle cx="9.5" cy="66.0" r="1.50" fill="rgb(45,45,45)"/><circle cx="56.4" cy="86.7" r="1.58" fill="rgb(71,71,71)"/><circle cx="12.9" cy="26.8" r="1.39" fill="rgb(15,15,15)"/><circle cx="47.0" cy="85.8" r="1.44" fill="rgb(67,67,67)"/><circle cx="55.9" cy="55.9" r="1.58" fill="rgb(53,53,53)"/><circle cx="30.5" cy="13.8" r="1.15" fill="rgb(51,51,51)"/><circle cx="20.5" cy="-1.3" r="1.34" fill="rgb(27,27,27)"/><circle cx="20.5" cy="88.7" r="1.34" fill="rgb(27,27,27)"/><circle cx="62.4" cy="23.0" r="1.57" fill="rgb(51,51,51)"/><circle cx="13.3" cy="65.7" r="1.49" fill="rgb(68,68,68)"/><circle cx="65.9" cy="30.6" r="1.39" fill="rgb(56,56,56)"/><circle cx="4.6" cy="33.8" r="1.29" fill="rgb(24,24,24)"/><circle cx="5.6" cy="10.4" r="1.20" fill="rgb(63,63,63)"/><circle cx="32.0" cy="9.1" r="1.45" fill="rgb(73,73,73)"/><circle cx="67.3" cy="41.0" r="1.48" fill="rgb(26,26,26)"/><circle cx="68.6" cy="81.1" r="1.49" fill="rgb(48,48,48)"/><circle cx="25.4" cy="45.4" r="1.50" fill="rgb(74,74,74)"/><circle cx="75.9" cy="74.2" r="1.39" fill="rgb(78,78,78)"/><circle cx="43.0" cy="65.4" r="1.56" fill="rgb(40,40,40)"/><circle cx="20.7" cy="79.7" r="1.45" fill="rgb(53,53,53)"/><circle cx="79.0" cy="51.9" r="1.20" fill="rgb(41,41,41)"/><circle cx="34.8" cy="0.1" r="1.33" fill="rgb(54,54,54)"/><circle cx="34.8" cy="90.1" r="1.33" fill="rgb(54,54,54)"/><circle cx="86.6" cy="77.9" r="1.23" fill="rgb(72,72,72)"/><circle cx="21.6" cy="57.4" r="1.28" fill="rgb(52,52,52)"/><circle cx="82.1" cy="3.8" r="1.39" fill="rgb(37,37,37)"/><circle cx="19.1" cy="64.8" r="1.15" fill="rgb(15,15,15)"/><circle cx="29.3" cy="43.6" r="1.43" fill="rgb(28,28,28)"/><circle cx="47.6" cy="44.7" r="1.38" fill="rgb(73,73,73)"/><circle cx="4.1" cy="60.0" r="1.15" fill="rgb(72,72,72)"/><circle cx="45.5" cy="56.2" r="1.53" fill="rgb(41,41,41)"/><circle cx="0.1" cy="36.2" r="1.29" fill="rgb(63,63,63)"/><circle cx="90.1" cy="36.2" r="1.29" fill="rgb(63,63,63)"/><circle cx="52.2" cy="3.0" r="1.49" fill="rgb(35,35,35)"/><circle cx="60.0" cy="75.2" r="1.53" fill="rgb(27,27,27)"/><circle cx="7.9" cy="71.5" r="1.53" fill="rgb(21,21,21)"/><circle cx="63.1" cy="28.3" r="1.59" fill="rgb(23,23,23)"/><circle cx="70.8" cy="20.2" r="1.26" fill="rgb(16,16,16)"/><circle cx="78.3" cy="35.7" r="1.41" fill="rgb(58,58,58)"/><circle cx="62.2" cy="81.2" r="1.25" fill="rgb(52,52,52)"/><circle cx="72.6" cy="15.8" r="1.48" fill="rgb(33,33,33)"/><circle cx="5.5" cy="67.1" r="1.57" fill="rgb(68,68,68)"/><circle cx="23.3" cy="14.9" r="1.30" fill="rgb(73,73,73)"/><circle cx="14.1" cy="81.2" r="1.48" fill="rgb(31,31,31)"/><circle cx="2.2" cy="17.3" r="1.39" fill="rgb(22,22,22)"/><circle cx="21.0" cy="19.6" r="1.31" fill="rgb(19,19,19)"/><circle cx="41.3" cy="82.6" r="1.41" fill="rgb(74,74,74)"/><circle cx="50.0" cy="64.7" r="1.23" fill="rgb(33,33,33)"/><circle cx="73.3" cy="40.5" r="1.39" fill="rgb(66,66,66)"/><circle cx="80.7" cy="30.5" r="1.49" fill="rgb(73,73,73)"/><circle cx="78.6" cy="1.5" r="1.41" fill="rgb(58,58,58)"/><circle cx="78.6" cy="91.5" r="1.41" fill="rgb(58,58,58)"/><circle cx="14.9" cy="3.2" r="1.49" fill="rgb(55,55,55)"/><circle cx="20.1" cy="50.2" r="1.24" fill="rgb(67,67,67)"/><circle cx="47.4" cy="30.9" r="1.29" fill="rgb(28,28,28)"/><circle cx="27.6" cy="24.5" r="1.29" fill="rgb(52,52,52)"/><circle cx="43.9" cy="73.8" r="1.23" fill="rgb(54,54,54)"/><circle cx="54.3" cy="16.2" r="1.43" fill="rgb(61,61,61)"/><circle cx="-1.2" cy="16.1" r="1.16" fill="rgb(73,73,73)"/><circle cx="88.8" cy="16.1" r="1.16" fill="rgb(73,73,73)"/><circle cx="39.0" cy="-0.1" r="1.48" fill="rgb(80,80,80)"/><circle cx="39.0" cy="89.9" r="1.48" fill="rgb(80,80,80)"/><circle cx="62.3" cy="13.5" r="1.34" fill="rgb(71,71,71)"/><circle cx="28.6" cy="20.8" r="1.20" fill="rgb(50,50,50)"/><circle cx="7.0" cy="85.5" r="1.60" fill="rgb(17,17,17)"/><circle cx="24.6" cy="21.3" r="1.16" fill="rgb(41,41,41)"/><circle cx="21.1" cy="25.3" r="1.20" fill="rgb(36,36,36)"/><circle cx="32.5" cy="87.1" r="1.19" fill="rgb(52,52,52)"/><circle cx="61.4" cy="31.8" r="1.52" fill="rgb(38,38,38)"/><circle cx="68.2" cy="65.1" r="1.27" fill="rgb(36,36,36)"/><circle cx="83.6" cy="64.8" r="1.24" fill="rgb(21,21,21)"/><circle cx="39.5" cy="64.0" r="1.38" fill="rgb(44,44,44)"/><circle cx="14.5" cy="58.4" r="1.38" fill="rgb(31,31,31)"/><circle cx="47.3" cy="40.1" r="1.54" fill="rgb(32,32,32)"/><circle cx="58.9" cy="59.5" r="1.38" fill="rgb(43,43,43)"/><circle cx="36.2" cy="38.4" r="1.46" fill="rgb(69,69,69)"/><circle cx="40.2" cy="26.1" r="1.27" fill="rgb(80,80,80)"/><circle cx="5.5" cy="1.2" r="1.35" fill="rgb(22,22,22)"/><circle cx="5.5" cy="91.2" r="1.35" fill="rgb(22,22,22)"/><circle cx="80.5" cy="56.9" r="1.31" fill="rgb(26,26,26)"/><circle cx="26.7" cy="4.0" r="1.36" fill="rgb(17,17,17)"/><circle cx="31.2" cy="1.6" r="1.36" fill="rgb(20,20,20)"/><circle cx="31.2" cy="91.6" r="1.36" fill="rgb(20,20,20)"/><circle cx="59.3" cy="52.7" r="1.26" fill="rgb(77,77,77)"/><circle cx="24.8" cy="40.8" r="1.17" fill="rgb(69,69,69)"/><circle cx="-0.3" cy="29.6" r="1.53" fill="rgb(44,44,44)"/><circle cx="89.7" cy="29.6" r="1.53" fill="rgb(44,44,44)"/><circle cx="12.3" cy="35.5" r="1.31" fill="rgb(63,63,63)"/><circle cx="70.4" cy="77.9" r="1.21" fill="rgb(39,39,39)"/><circle cx="36.9" cy="15.5" r="1.18" fill="rgb(60,60,60)"/><circle cx="20.9" cy="68.6" r="1.17" fill="rgb(68,68,68)"/><circle cx="83.4" cy="73.6" r="1.55" fill="rgb(75,75,75)"/><circle cx="56.4" cy="42.3" r="1.41" fill="rgb(68,68,68)"/><circle cx="34.2" cy="76.9" r="1.29" fill="rgb(78,78,78)"/><circle cx="50.5" cy="6.1" r="1.18" fill="rgb(26,26,26)"/><circle cx="76.1" cy="81.3" r="1.38" fill="rgb(36,36,36)"/><circle cx="57.3" cy="35.7" r="1.48" fill="rgb(52,52,52)"/><circle cx="8.6" cy="25.2" r="1.35" fill="rgb(56,56,56)"/><circle cx="19.0" cy="40.4" r="1.35" fill="rgb(51,51,51)"/><circle cx="61.7" cy="4.5" r="1.26" fill="rgb(58,58,58)"/><circle cx="1.3" cy="72.9" r="1.22" fill="rgb(38,38,38)"/><circle cx="91.3" cy="72.9" r="1.22" fill="rgb(38,38,38)"/><circle cx="-1.2" cy="51.8" r="1.17" fill="rgb(40,40,40)"/><circle cx="88.8" cy="51.8" r="1.17" fill="rgb(40,40,40)"/><circle cx="60.7" cy="87.2" r="1.54" fill="rgb(71,71,71)"/><circle cx="81.9" cy="26.4" r="1.31" fill="rgb(61,61,61)"/><circle cx="1.8" cy="21.8" r="1.51" fill="rgb(38,38,38)"/><circle cx="91.8" cy="21.8" r="1.51" fill="rgb(38,38,38)"/><circle cx="76.7" cy="30.6" r="1.48" fill="rgb(18,18,18)"/><circle cx="28.8" cy="29.8" r="1.27" fill="rgb(61,61,61)"/><circle cx="19.2" cy="14.1" r="1.43" fill="rgb(33,33,33)"/><circle cx="73.1" cy="48.1" r="1.44" fill="rgb(76,76,76)"/><circle cx="61.4" cy="63.5" r="1.22" fill="rgb(23,23,23)"/><circle cx="34.8" cy="34.7" r="1.40" fill="rgb(53,53,53)"/><circle cx="33.8" cy="83.0" r="1.23" fill="rgb(65,65,65)"/><circle cx="44.6" cy="35.5" r="1.31" fill="rgb(34,34,34)"/><circle cx="64.5" cy="10.4" r="1.15" fill="rgb(54,54,54)"/><circle cx="41.1" cy="68.9" r="1.22" fill="rgb(21,21,21)"/><circle cx="85.5" cy="1.6" r="1.48" fill="rgb(18,18,18)"/><circle cx="85.5" cy="91.6" r="1.48" fill="rgb(18,18,18)"/><circle cx="22.9" cy="2.8" r="1.23" fill="rgb(42,42,42)"/><circle cx="67.3" cy="46.6" r="1.37" fill="rgb(70,70,70)"/><circle cx="83.3" cy="51.2" r="1.41" fill="rgb(37,37,37)"/><circle cx="44.5" cy="79.6" r="1.36" fill="rgb(39,39,39)"/><circle cx="81.0" cy="68.6" r="1.33" fill="rgb(43,43,43)"/><circle cx="82.3" cy="21.6" r="1.27" fill="rgb(48,48,48)"/><circle cx="42.2" cy="61.0" r="1.19" fill="rgb(56,56,56)"/><circle cx="42.2" cy="86.4" r="1.54" fill="rgb(52,52,52)"/><circle cx="28.5" cy="47.6" r="1.23" fill="rgb(24,24,24)"/><circle cx="56.5" cy="31.7" r="1.57" fill="rgb(37,37,37)"/><circle cx="69.5" cy="59.5" r="1.15" fill="rgb(42,42,42)"/><circle cx="11.3" cy="17.7" r="1.25" fill="rgb(65,65,65)"/><circle cx="87.5" cy="63.6" r="1.37" fill="rgb(45,45,45)"/><circle cx="5.1" cy="26.5" r="1.24" fill="rgb(67,67,67)"/><circle cx="11.5" cy="30.4" r="1.34" fill="rgb(50,50,50)"/><circle cx="67.9" cy="35.1" r="1.35" fill="rgb(45,45,45)"/><circle cx="55.9" cy="64.3" r="1.42" fill="rgb(54,54,54)"/><circle cx="6.0" cy="14.0" r="1.19" fill="rgb(38,38,38)"/><circle cx="77.6" cy="77.8" r="1.35" fill="rgb(41,41,41)"/><circle cx="33.4" cy="43.1" r="1.16" fill="rgb(37,37,37)"/><circle cx="68.4" cy="-1.0" r="1.49" fill="rgb(68,68,68)"/><circle cx="68.4" cy="89.0" r="1.49" fill="rgb(68,68,68)"/><circle cx="1.2" cy="62.1" r="1.47" fill="rgb(62,62,62)"/><circle cx="91.2" cy="62.1" r="1.47" fill="rgb(62,62,62)"/><circle cx="2.4" cy="82.9" r="1.25" fill="rgb(69,69,69)"/><circle cx="19.6" cy="29.9" r="1.21" fill="rgb(70,70,70)"/><circle cx="10.0" cy="2.5" r="1.26" fill="rgb(59,59,59)"/><circle cx="51.4" cy="32.4" r="1.49" fill="rgb(75,75,75)"/><circle cx="23.5" cy="76.5" r="1.57" fill="rgb(70,70,70)"/><circle cx="36.5" cy="6.5" r="1.24" fill="rgb(62,62,62)"/><circle cx="69.4" cy="3.1" r="1.23" fill="rgb(41,41,41)"/><circle cx="68.7" cy="69.5" r="1.30" fill="rgb(46,46,46)"/><circle cx="10.2" cy="50.1" r="1.38" fill="rgb(17,17,17)"/><circle cx="0.1" cy="77.0" r="1.30" fill="rgb(18,18,18)"/><circle cx="90.1" cy="77.0" r="1.30" fill="rgb(18,18,18)"/><circle cx="43.1" cy="1.6" r="1.52" fill="rgb(16,16,16)"/><circle cx="43.1" cy="91.6" r="1.52" fill="rgb(16,16,16)"/><circle cx="59.4" cy="47.4" r="1.40" fill="rgb(34,34,34)"/><circle cx="36.0" cy="21.5" r="1.45" fill="rgb(15,15,15)"/><circle cx="16.7" cy="33.7" r="1.54" fill="rgb(36,36,36)"/><circle cx="54.8" cy="46.0" r="1.53" fill="rgb(38,38,38)"/><circle cx="82.1" cy="43.7" r="1.32" fill="rgb(32,32,32)"/><circle cx="43.1" cy="31.7" r="1.37" fill="rgb(36,36,36)"/><circle cx="58.5" cy="0.1" r="1.39" fill="rgb(68,68,68)"/><circle cx="58.5" cy="90.1" r="1.39" fill="rgb(68,68,68)"/><circle cx="16.1" cy="23.3" r="1.30" fill="rgb(31,31,31)"/><circle cx="50.5" cy="79.4" r="1.59" fill="rgb(77,77,77)"/><circle cx="66.1" cy="20.1" r="1.37" fill="rgb(22,22,22)"/><circle cx="85.9" cy="38.4" r="1.18" fill="rgb(27,27,27)"/><circle cx="65.7" cy="24.5" r="1.51" fill="rgb(49,49,49)"/><circle cx="52.5" cy="52.8" r="1.33" fill="rgb(78,78,78)"/><circle cx="59.3" cy="39.1" r="1.31" fill="rgb(66,66,66)"/><circle cx="52.5" cy="70.3" r="1.56" fill="rgb(56,56,56)"/><circle cx="31.7" cy="58.9" r="1.54" fill="rgb(32,32,32)"/><circle cx="75.7" cy="58.1" r="1.47" fill="rgb(25,25,25)"/><circle cx="19.7" cy="10.2" r="1.58" fill="rgb(30,30,30)"/><circle cx="47.0" cy="3.7" r="1.46" fill="rgb(59,59,59)"/><circle cx="36.9" cy="27.8" r="1.41" fill="rgb(74,74,74)"/><circle cx="12.6" cy="40.7" r="1.53" fill="rgb(47,47,47)"/><circle cx="81.0" cy="14.9" r="1.30" fill="rgb(76,76,76)"/><circle cx="10.6" cy="86.9" r="1.47" fill="rgb(54,54,54)"/><circle cx="55.1" cy="8.7" r="1.54" fill="rgb(78,78,78)"/><circle cx="61.6" cy="55.8" r="1.19" fill="rgb(15,15,15)"/><circle cx="55.7" cy="50.9" r="1.53" fill="rgb(27,27,27)"/><circle cx="43.3" cy="17.0" r="1.49" fill="rgb(45,45,45)"/><circle cx="16.2" cy="68.0" r="1.16" fill="rgb(49,49,49)"/><circle cx="10.9" cy="82.8" r="1.46" fill="rgb(76,76,76)"/><circle cx="3.1" cy="48.1" r="1.28" fill="rgb(47,47,47)"/><circle cx="65.0" cy="78.3" r="1.37" fill="rgb(16,16,16)"/><circle cx="57.3" cy="82.4" r="1.28" fill="rgb(38,38,38)"/><circle cx="86.3" cy="70.6" r="1.24" fill="rgb(58,58,58)"/><circle cx="87.4" cy="4.7" r="1.37" fill="rgb(23,23,23)"/><circle cx="39.8" cy="50.9" r="1.42" fill="rgb(53,53,53)"/><circle cx="11.4" cy="78.1" r="1.24" fill="rgb(59,59,59)"/><circle cx="-0.3" cy="43.1" r="1.34" fill="rgb(36,36,36)"/><circle cx="89.7" cy="43.1" r="1.34" fill="rgb(36,36,36)"/><circle cx="40.6" cy="43.7" r="1.51" fill="rgb(70,70,70)"/><circle cx="1.8" cy="13.6" r="1.19" fill="rgb(55,55,55)"/><circle cx="91.8" cy="13.6" r="1.19" fill="rgb(55,55,55)"/><circle cx="33.7" cy="47.7" r="1.49" fill="rgb(79,79,79)"/><circle cx="32.7" cy="23.5" r="1.38" fill="rgb(50,50,50)"/><circle cx="26.9" cy="15.2" r="1.35" fill="rgb(30,30,30)"/><circle cx="77.9" cy="12.4" r="1.54" fill="rgb(75,75,75)"/><circle cx="70.2" cy="44.4" r="1.57" fill="rgb(58,58,58)"/><circle cx="19.1" cy="74.5" r="1.43" fill="rgb(50,50,50)"/><circle cx="33.7" cy="55.5" r="1.44" fill="rgb(50,50,50)"/><circle cx="7.5" cy="5.8" r="1.27" fill="rgb(35,35,35)"/><circle cx="44.1" cy="22.1" r="1.41" fill="rgb(51,51,51)"/><circle cx="27.9" cy="78.2" r="1.43" fill="rgb(30,30,30)"/><circle cx="24.1" cy="61.6" r="1.19" fill="rgb(53,53,53)"/><circle cx="23.4" cy="37.2" r="1.40" fill="rgb(65,65,65)"/><circle cx="70.2" cy="25.3" r="1.60" fill="rgb(32,32,32)"/><circle cx="12.7" cy="6.2" r="1.59" fill="rgb(54,54,54)"/><circle cx="33.4" cy="18.4" r="1.19" fill="rgb(63,63,63)"/><circle cx="84.4" cy="57.0" r="1.35" fill="rgb(71,71,71)"/><circle cx="71.9" cy="6.4" r="1.39" fill="rgb(41,41,41)"/><circle cx="80.9" cy="8.8" r="1.24" fill="rgb(33,33,33)"/><circle cx="63.3" cy="37.9" r="1.34" fill="rgb(78,78,78)"/><circle cx="85.8" cy="20.4" r="1.55" fill="rgb(61,61,61)"/><circle cx="9.0" cy="62.2" r="1.37" fill="rgb(43,43,43)"/><circle cx="63.8" cy="48.2" r="1.37" fill="rgb(17,17,17)"/><circle cx="8.9" cy="36.4" r="1.36" fill="rgb(80,80,80)"/><circle cx="48.8" cy="53.4" r="1.19" fill="rgb(66,66,66)"/><circle cx="48.7" cy="34.9" r="1.32" fill="rgb(49,49,49)"/><circle cx="14.6" cy="-0.5" r="1.44" fill="rgb(24,24,24)"/><circle cx="14.6" cy="89.5" r="1.44" fill="rgb(24,24,24)"/><circle cx="37.1" cy="84.9" r="1.16" fill="rgb(62,62,62)"/><circle cx="68.4" cy="55.4" r="1.50" fill="rgb(15,15,15)"/><circle cx="84.4" cy="7.1" r="1.38" fill="rgb(54,54,54)"/><circle cx="74.8" cy="52.3" r="1.49" fill="rgb(24,24,24)"/><circle cx="24.1" cy="29.1" r="1.41" fill="rgb(48,48,48)"/><circle cx="46.9" cy="66.4" r="1.57" fill="rgb(30,30,30)"/><circle cx="17.3" cy="27.1" r="1.60" fill="rgb(67,67,67)"/><circle cx="15.8" cy="50.3" r="1.24" fill="rgb(80,80,80)"/><circle cx="28.5" cy="64.7" r="1.57" fill="rgb(80,80,80)"/><circle cx="61.0" cy="18.2" r="1.47" fill="rgb(80,80,80)"/><circle cx="11.5" cy="21.7" r="1.20" fill="rgb(16,16,16)"/><circle cx="32.7" cy="31.0" r="1.17" fill="rgb(55,55,55)"/><circle cx="84.0" cy="81.2" r="1.17" fill="rgb(79,79,79)"/><circle cx="50.3" cy="28.8" r="1.25" fill="rgb(70,70,70)"/><circle cx="73.1" cy="32.6" r="1.22" fill="rgb(48,48,48)"/><circle cx="11.8" cy="72.9" r="1.27" fill="rgb(27,27,27)"/><circle cx="86.1" cy="44.3" r="1.15" fill="rgb(18,18,18)"/><circle cx="49.8" cy="57.5" r="1.40" fill="rgb(51,51,51)"/><circle cx="1.0" cy="4.2" r="1.22" fill="rgb(21,21,21)"/><circle cx="91.0" cy="4.2" r="1.22" fill="rgb(21,21,21)"/><circle cx="43.6" cy="52.8" r="1.50" fill="rgb(28,28,28)"/><circle cx="81.9" cy="36.7" r="1.54" fill="rgb(59,59,59)"/><circle cx="19.4" cy="54.1" r="1.16" fill="rgb(46,46,46)"/><circle cx="25.3" cy="0.0" r="1.54" fill="rgb(80,80,80)"/><circle cx="25.3" cy="90.0" r="1.54" fill="rgb(80,80,80)"/><circle cx="2.1" cy="-0.1" r="1.29" fill="rgb(27,27,27)"/><circle cx="2.1" cy="89.9" r="1.29" fill="rgb(27,27,27)"/><circle cx="37.8" cy="32.2" r="1.43" fill="rgb(30,30,30)"/><circle cx="30.6" cy="68.0" r="1.39" fill="rgb(19,19,19)"/><circle cx="66.7" cy="5.4" r="1.16" fill="rgb(36,36,36)"/><circle cx="43.7" cy="40.4" r="1.29" fill="rgb(65,65,65)"/><circle cx="75.7" cy="65.8" r="1.44" fill="rgb(20,20,20)"/><circle cx="78.2" cy="27.1" r="1.16" fill="rgb(51,51,51)"/><circle cx="46.6" cy="60.7" r="1.51" fill="rgb(55,55,55)"/><circle cx="84.4" cy="30.3" r="1.57" fill="rgb(78,78,78)"/><circle cx="76.2" cy="-1.9" r="1.39" fill="rgb(26,26,26)"/><circle cx="76.2" cy="88.1" r="1.39" fill="rgb(26,26,26)"/><circle cx="3.8" cy="70.2" r="1.25" fill="rgb(29,29,29)"/><circle cx="68.6" cy="17.3" r="1.32" fill="rgb(72,72,72)"/><circle cx="16.4" cy="11.8" r="1.36" fill="rgb(58,58,58)"/><circle cx="7.6" cy="46.6" r="1.52" fill="rgb(44,44,44)"/><circle cx="60.6" cy="71.5" r="1.17" fill="rgb(58,58,58)"/><circle cx="44.5" cy="8.1" r="1.44" fill="rgb(73,73,73)"/><circle cx="80.8" cy="48.4" r="1.23" fill="rgb(73,73,73)"/><circle cx="18.0" cy="1.3" r="1.49" fill="rgb(16,16,16)"/><circle cx="18.0" cy="91.3" r="1.49" fill="rgb(16,16,16)"/><circle cx="27.7" cy="82.4" r="1.57" fill="rgb(23,23,23)"/><circle cx="52.2" cy="12.9" r="1.48" fill="rgb(46,46,46)"/><circle cx="23.8" cy="81.8" r="1.41" fill="rgb(79,79,79)"/><circle cx="4.2" cy="79.6" r="1.46" fill="rgb(33,33,33)"/><circle cx="55.0" cy="78.8" r="1.50" fill="rgb(51,51,51)"/><circle cx="53.1" cy="20.7" r="1.54" fill="rgb(76,76,76)"/><circle cx="47.0" cy="-0.5" r="1.52" fill="rgb(22,22,22)"/><circle cx="47.0" cy="89.5" r="1.52" fill="rgb(22,22,22)"/><circle cx="82.3" cy="0.2" r="1.43" fill="rgb(36,36,36)"/><circle cx="82.3" cy="90.2" r="1.43" fill="rgb(36,36,36)"/><circle cx="5.8" cy="22.8" r="1.42" fill="rgb(22,22,22)"/><circle cx="23.1" cy="71.9" r="1.40" fill="rgb(46,46,46)"/><circle cx="21.9" cy="44.0" r="1.49" fill="rgb(15,15,15)"/><circle cx="68.7" cy="85.3" r="1.60" fill="rgb(59,59,59)"/><circle cx="78.4" cy="5.6" r="1.53" fill="rgb(66,66,66)"/><circle cx="20.7" cy="33.3" r="1.33" fill="rgb(20,20,20)"/><circle cx="37.6" cy="10.0" r="1.52" fill="rgb(38,38,38)"/><circle cx="33.5" cy="73.0" r="1.52" fill="rgb(50,50,50)"/><circle cx="74.4" cy="26.3" r="1.38" fill="rgb(79,79,79)"/><circle cx="82.8" cy="40.2" r="1.30" fill="rgb(56,56,56)"/><circle cx="56.2" cy="70.4" r="1.54" fill="rgb(33,33,33)"/><circle cx="80.3" cy="80.3" r="1.58" fill="rgb(32,32,32)"/><circle cx="4.3" cy="51.5" r="1.31" fill="rgb(35,35,35)"/><circle cx="15.0" cy="43.8" r="1.50" fill="rgb(63,63,63)"/><circle cx="15.5" cy="15.6" r="1.58" fill="rgb(72,72,72)"/><circle cx="32.3" cy="37.4" r="1.51" fill="rgb(47,47,47)"/><circle cx="72.0" cy="-0.5" r="1.52" fill="rgb(75,75,75)"/><circle cx="72.0" cy="89.5" r="1.52" fill="rgb(75,75,75)"/><circle cx="16.8" cy="78.0" r="1.24" fill="rgb(18,18,18)"/><circle cx="17.9" cy="57.4" r="1.23" fill="rgb(41,41,41)"/><circle cx="51.3" cy="75.8" r="1.34" fill="rgb(59,59,59)"/><circle cx="34.3" cy="12.8" r="1.18" fill="rgb(23,23,23)"/><circle cx="76.7" cy="62.0" r="1.55" fill="rgb(42,42,42)"/><circle cx="76.9" cy="49.0" r="1.16" fill="rgb(15,15,15)"/><circle cx="28.5" cy="52.0" r="1.42" fill="rgb(18,18,18)"/><circle cx="1.5" cy="39.9" r="1.20" fill="rgb(36,36,36)"/><circle cx="91.5" cy="39.9" r="1.20" fill="rgb(36,36,36)"/><circle cx="42.0" cy="57.3" r="1.48" fill="rgb(31,31,31)"/><circle cx="5.2" cy="56.0" r="1.19" fill="rgb(38,38,38)"/><circle cx="46.7" cy="76.1" r="1.44" fill="rgb(52,52,52)"/><circle cx="59.3" cy="79.0" r="1.42" fill="rgb(28,28,28)"/><circle cx="40.7" cy="34.4" r="1.34" fill="rgb(54,54,54)"/><circle cx="15.7" cy="38.7" r="1.33" fill="rgb(52,52,52)"/><circle cx="27.1" cy="11.2" r="1.59" fill="rgb(37,37,37)"/><circle cx="80.0" cy="72.4" r="1.22" fill="rgb(17,17,17)"/><circle cx="83.8" cy="11.6" r="1.39" fill="rgb(77,77,77)"/><circle cx="74.0" cy="77.3" r="1.35" fill="rgb(66,66,66)"/><circle cx="38.6" cy="59.2" r="1.45" fill="rgb(62,62,62)"/><circle cx="72.2" cy="55.0" r="1.17" fill="rgb(32,32,32)"/><circle cx="11.5" cy="69.0" r="1.24" fill="rgb(74,74,74)"/><circle cx="14.3" cy="85.7" r="1.42" fill="rgb(48,48,48)"/><circle cx="43.8" cy="27.3" r="1.25" fill="rgb(55,55,55)"/><circle cx="81.0" cy="76.6" r="1.31" fill="rgb(19,19,19)"/><circle cx="84.5" cy="61.0" r="1.38" fill="rgb(59,59,59)"/><circle cx="67.3" cy="50.2" r="1.35" fill="rgb(46,46,46)"/><circle cx="3.3" cy="29.9" r="1.49" fill="rgb(59,59,59)"/><circle cx="37.2" cy="42.4" r="1.57" fill="rgb(44,44,44)"/><circle cx="40.3" cy="14.2" r="1.24" fill="rgb(63,63,63)"/><circle cx="85.6" cy="26.8" r="1.56" fill="rgb(53,53,53)"/><circle cx="44.3" cy="13.5" r="1.60" fill="rgb(49,49,49)"/><circle cx="25.2" cy="57.2" r="1.24" fill="rgb(60,60,60)"/><circle cx="41.4" cy="47.2" r="1.29" fill="rgb(42,42,42)"/><circle cx="72.6" cy="72.3" r="1.33" fill="rgb(53,53,53)"/><circle cx="31.7" cy="62.8" r="1.34" fill="rgb(44,44,44)"/><circle cx="48.9" cy="69.6" r="1.28" fill="rgb(41,41,41)"/><circle cx="3.3" cy="86.5" r="1.54" fill="rgb(28,28,28)"/><circle cx="9.7" cy="14.2" r="1.31" fill="rgb(38,38,38)"/></pattern>
<filter id="bl" x="0" y="0" width="1" height="1" color-interpolation-filters="sRGB"><feConvolveMatrix order="3" kernelMatrix="1 2 1 2 4 2 1 2 1" divisor="16" edgeMode="duplicate"/></filter>
</defs>
<g filter="url(#bl)">
<rect width="1031" height="863" fill="#fdfdfd"/>
<rect x="950" width="81" height="863" fill="#ffffff"/>
<rect x="421.7" y="305.5" width="212.8" height="213.5" fill="url(#stc)" stroke="#151515" stroke-width="2.4"/>
<rect x="296.4" y="179" width="85.10000000000002" height="82.5" fill="url(#st)" stroke="#151515" stroke-width="2.4"/>
<rect x="677.7" y="179.4" width="83.29999999999995" height="82.9" fill="url(#st)" stroke="#151515" stroke-width="2.4"/>
<rect x="298.7" y="561.6" width="82.80000000000001" height="77.69999999999993" fill="url(#st)" stroke="#151515" stroke-width="2.4"/>
<rect x="676.7" y="563" width="82.29999999999995" height="80" fill="url(#st)" stroke="#151515" stroke-width="2.4"/>
<rect x="377.7" y="261.5" width="49.0" height="47.89999999999998" fill="url(#st)" stroke="#151515" stroke-width="2.4"/>
<rect x="630.6" y="262.3" width="49.69999999999993" height="46.19999999999999" fill="url(#st)" stroke="#151515" stroke-width="2.4"/>
<rect x="377.7" y="513" width="47.30000000000001" height="49" fill="url(#st)" stroke="#151515" stroke-width="2.4"/>
<rect x="631.6" y="515" width="48.0" height="50.799999999999955" fill="url(#st)" stroke="#151515" stroke-width="2.4"/>
<line x1="85" y1="101.5" x2="374" y2="100.2" stroke="#333" stroke-width="2.4"/>
<line x1="99.4" y1="101" x2="107.9" y2="719" stroke="#3a3a3a" stroke-width="2.2"/>
<line x1="134.7" y1="101" x2="140" y2="719" stroke="#3a3a3a" stroke-width="2.2"/>
<line x1="96" y1="719" x2="375" y2="718" stroke="#333" stroke-width="2.4"/>
<line x1="123" y1="307" x2="212.5" y2="307" stroke="#151515" stroke-width="1.7"/>
<line x1="128" y1="514.4" x2="212.5" y2="514.4" stroke="#151515" stroke-width="1.7"/>
<line x1="153" y1="561.5" x2="212.5" y2="561" stroke="#151515" stroke-width="1.7"/>
<line x1="171.5" y1="514" x2="172.6" y2="719" stroke="#151515" stroke-width="1.6"/>
<text x="90.5" y="405.4" font-family="Liberation Serif" font-size="16" text-anchor="middle" textLength="127" lengthAdjust="spacingAndGlyphs" transform="rotate(-90 90.5 405.4)">27яней ( 54.675м)</text>
<text x="127" y="201" font-family="Liberation Serif" font-size="14" text-anchor="middle" textLength="47" lengthAdjust="spacingAndGlyphs" transform="rotate(-90 127 201)">9 яней</text>
<text x="127.5" y="406" font-family="Liberation Serif" font-size="14" text-anchor="middle" textLength="47" lengthAdjust="spacingAndGlyphs" transform="rotate(-90 127.5 406)">9 яней</text>
<text x="127" y="609" font-family="Liberation Serif" font-size="14" text-anchor="middle" textLength="50" lengthAdjust="spacingAndGlyphs" transform="rotate(-90 127 609)">9 яней</text>
<text x="167.5" y="538.5" font-family="Liberation Serif" font-size="14" text-anchor="middle" textLength="40" lengthAdjust="spacingAndGlyphs" transform="rotate(-90 167.5 538.5)">2 яня</text>
<text x="190" y="542.4" font-family="Liberation Serif" font-size="14" text-anchor="middle" textLength="54" lengthAdjust="spacingAndGlyphs" transform="rotate(-90 190 542.4)">( 4. 05м)</text>
<text x="168" y="643.6" font-family="Liberation Serif" font-size="14" text-anchor="middle" textLength="47" lengthAdjust="spacingAndGlyphs" transform="rotate(-90 168 643.6)">7 яней</text>
<text x="189" y="643" font-family="Liberation Serif" font-size="14" text-anchor="middle" textLength="66" lengthAdjust="spacingAndGlyphs" transform="rotate(-90 189 643)">( 14. 175м)</text>
<line x1="148" y1="409.4" x2="380" y2="410.5" stroke="#151515" stroke-width="1.7" stroke-dasharray="24 5 2 5"/>
<line x1="422" y1="411" x2="515" y2="412" stroke="#151515" stroke-width="1.7" stroke-dasharray="24 5 2 5"/>
<line x1="548" y1="413" x2="634" y2="414" stroke="#151515" stroke-width="1.7" stroke-dasharray="24 5 2 5"/>
<line x1="634" y1="414.2" x2="908" y2="415.6" stroke="#151515" stroke-width="1.7" stroke-dasharray="24 5 2 5"/>
<line x1="530.8" y1="46" x2="530.8" y2="148" stroke="#151515" stroke-width="1.7" stroke-dasharray="24 5 2 5"/>
<line x1="530.8" y1="163" x2="530.8" y2="402" stroke="#151515" stroke-width="1.7" stroke-dasharray="24 5 2 5"/>
<line x1="530.2" y1="424" x2="529.9" y2="655" stroke="#151515" stroke-width="1.7" stroke-dasharray="24 5 2 5"/>
<line x1="529.9" y1="670" x2="529.2" y2="782" stroke="#151515" stroke-width="1.7" stroke-dasharray="24 5 2 5"/>
<path d="M374.0,147.0 L374.0,92.8 L683.0,92.5 L683.0,147.0" fill="none" stroke="#151515" stroke-width="2.6"/>
<line x1="374.8" y1="723.8" x2="683" y2="728.4" stroke="#151515" stroke-width="2.0"/>
<path d="M379.7,159.4 L379.7,101.0 L424.7,101.0 L424.7,112.6" fill="none" stroke="#151515" stroke-width="6.0" stroke-linejoin="miter" stroke-linecap="butt"/>
<path d="M379.7,157.5 L379.7,101.0 L424.7,101.0 L424.7,110.7" fill="none" stroke="#e0e0e0" stroke-width="2.2" stroke-linejoin="miter" stroke-linecap="butt"/>
<line x1="416" y1="118.4" x2="432" y2="118.4" stroke="#151515" stroke-width="2.0"/>
<path d="M424.7,123.4 L424.7,240.5" fill="none" stroke="#151515" stroke-width="6.0" stroke-linejoin="miter" stroke-linecap="butt"/>
<path d="M424.7,125.3 L424.7,238.6" fill="none" stroke="#e0e0e0" stroke-width="2.2" stroke-linejoin="miter" stroke-linecap="butt"/>
<line x1="416" y1="245.7" x2="432" y2="245.7" stroke="#151515" stroke-width="2.0"/>
<path d="M424.7,251.0 L424.7,261.5" fill="none" stroke="#151515" stroke-width="6.0" stroke-linejoin="miter" stroke-linecap="butt"/>
<path d="M424.7,252.9 L424.7,259.6" fill="none" stroke="#e0e0e0" stroke-width="2.2" stroke-linejoin="miter" stroke-linecap="butt"/>
<path d="M382.0,181.0 L424.7,181.0" fill="none" stroke="#151515" stroke-width="6" stroke-linejoin="miter" stroke-linecap="butt"/>
<path d="M383.9,181.0 L422.8,181.0" fill="none" stroke="#e0e0e0" stroke-width="2.2" stroke-linejoin="miter" stroke-linecap="butt"/>
<path d="M379.7,169.1 L379.7,179.0" fill="none" stroke="#151515" stroke-width="6.0" stroke-linejoin="miter" stroke-linecap="butt"/>
<path d="M379.7,171.0 L379.7,177.1" fill="none" stroke="#e0e0e0" stroke-width="2.2" stroke-linejoin="miter" stroke-linecap="butt"/>
<line x1="371.3" y1="164.4" x2="391.5" y2="164.4" stroke="#151515" stroke-width="2.0"/>
<path d="M265.9,158.3 L265.9,148.6 L376.0,148.6" fill="none" stroke="#151515" stroke-width="8" stroke-linejoin="miter" stroke-linecap="butt"/>
<path d="M265.9,155.5 L265.9,148.6 L373.2,148.6" fill="none" stroke="#3a3a3a" stroke-width="2.4" stroke-linejoin="miter" stroke-linecap="butt"/>
<line x1="262.8" y1="164.3" x2="279.2" y2="164.3" stroke="#151515" stroke-width="2.0"/>
<path d="M265.9,168.7 L265.9,261.0" fill="none" stroke="#151515" stroke-width="7.5" stroke-linejoin="miter" stroke-linecap="butt"/>
<path d="M265.9,171.2 L265.9,258.4" fill="none" stroke="#8a8a8a" stroke-width="2.4" stroke-linejoin="miter" stroke-linecap="butt"/>
<rect x="231.3" y="153.9" width="29.69999999999999" height="18.900000000000006" fill="#777" stroke="#151515" stroke-width="1.8"/>
<line x1="234.27" y1="153.9" x2="234.27" y2="172.8" stroke="#151515" stroke-width="1.3"/>
<line x1="237.24" y1="153.9" x2="237.24" y2="172.8" stroke="#151515" stroke-width="1.3"/>
<line x1="240.21" y1="153.9" x2="240.21" y2="172.8" stroke="#151515" stroke-width="1.3"/>
<line x1="243.18" y1="153.9" x2="243.18" y2="172.8" stroke="#151515" stroke-width="1.3"/>
<line x1="246.15" y1="153.9" x2="246.15" y2="172.8" stroke="#151515" stroke-width="1.3"/>
<line x1="249.12" y1="153.9" x2="249.12" y2="172.8" stroke="#151515" stroke-width="1.3"/>
<line x1="252.09" y1="153.9" x2="252.09" y2="172.8" stroke="#151515" stroke-width="1.3"/>
<line x1="255.06" y1="153.9" x2="255.06" y2="172.8" stroke="#151515" stroke-width="1.3"/>
<line x1="258.03" y1="153.9" x2="258.03" y2="172.8" stroke="#151515" stroke-width="1.3"/>
<path d="M230.0,306.0 L221.0,306.0 L221.0,261.0 L274.8,261.0" fill="none" stroke="#151515" stroke-width="6.0" stroke-linejoin="miter" stroke-linecap="butt"/>
<path d="M228.1,306.0 L221.0,306.0 L221.0,261.0 L272.9,261.0" fill="none" stroke="#e0e0e0" stroke-width="2.2" stroke-linejoin="miter" stroke-linecap="butt"/>
<path d="M262.0,256.0 L212.2,256.0 L212.6,565.6 L264.0,565.6" fill="none" stroke="#151515" stroke-width="2.0"/>
<line x1="282" y1="248" x2="282" y2="270" stroke="#151515" stroke-width="2.0"/>
<path d="M288.0,261.0 L377.0,261.0" fill="none" stroke="#151515" stroke-width="6.0" stroke-linejoin="miter" stroke-linecap="butt"/>
<path d="M289.9,261.0 L375.1,261.0" fill="none" stroke="#e0e0e0" stroke-width="2.2" stroke-linejoin="miter" stroke-linecap="butt"/>
<path d="M299.5,263.0 L299.5,304.0" fill="none" stroke="#151515" stroke-width="5" stroke-linejoin="miter" stroke-linecap="butt"/>
<path d="M299.5,264.4 L299.5,302.6" fill="none" stroke="#e0e0e0" stroke-width="2.2" stroke-linejoin="miter" stroke-linecap="butt"/>
<line x1="236.8" y1="296" x2="236.8" y2="316" stroke="#151515" stroke-width="2.0"/>
<path d="M244.0,306.0 L356.0,306.0" fill="none" stroke="#151515" stroke-width="6.0" stroke-linejoin="miter" stroke-linecap="butt"/>
<path d="M245.9,306.0 L354.1,306.0" fill="none" stroke="#e0e0e0" stroke-width="2.2" stroke-linejoin="miter" stroke-linecap="butt"/>
<line x1="363" y1="296" x2="363" y2="316" stroke="#151515" stroke-width="2.0"/>
<path d="M370.0,306.0 L380.0,306.0" fill="none" stroke="#151515" stroke-width="6.0" stroke-linejoin="miter" stroke-linecap="butt"/>
<path d="M371.9,306.0 L378.1,306.0" fill="none" stroke="#e0e0e0" stroke-width="2.2" stroke-linejoin="miter" stroke-linecap="butt"/>
<path d="M379.7,306.0 L379.7,433.0" fill="none" stroke="#151515" stroke-width="6.0" stroke-linejoin="miter" stroke-linecap="butt"/>
<path d="M379.7,307.9 L379.7,431.1" fill="none" stroke="#e0e0e0" stroke-width="2.2" stroke-linejoin="miter" stroke-linecap="butt"/>
<line x1="370" y1="440.6" x2="390" y2="440.6" stroke="#151515" stroke-width="2.0"/>
<path d="M379.7,447.0 L379.7,482.7" fill="none" stroke="#151515" stroke-width="6.0" stroke-linejoin="miter" stroke-linecap="butt"/>
<path d="M379.7,448.9 L379.7,480.8" fill="none" stroke="#e0e0e0" stroke-width="2.2" stroke-linejoin="miter" stroke-linecap="butt"/>
<line x1="366" y1="492" x2="386" y2="492" stroke="#151515" stroke-width="2.0"/>
<path d="M379.7,500.0 L379.7,514.0" fill="none" stroke="#151515" stroke-width="6.0" stroke-linejoin="miter" stroke-linecap="butt"/>
<path d="M379.7,501.9 L379.7,512.1" fill="none" stroke="#e0e0e0" stroke-width="2.2" stroke-linejoin="miter" stroke-linecap="butt"/>
<path d="M382.0,354.0 L407.7,354.0" fill="none" stroke="#151515" stroke-width="5" stroke-linejoin="miter" stroke-linecap="butt"/>
<path d="M383.4,354.0 L406.3,354.0" fill="none" stroke="#e0e0e0" stroke-width="2.2" stroke-linejoin="miter" stroke-linecap="butt"/>
<line x1="412.8" y1="346" x2="412.8" y2="362" stroke="#151515" stroke-width="2.0"/>
<path d="M382.0,470.0 L407.3,470.0" fill="none" stroke="#151515" stroke-width="5" stroke-linejoin="miter" stroke-linecap="butt"/>
<path d="M383.4,470.0 L405.9,470.0" fill="none" stroke="#e0e0e0" stroke-width="2.2" stroke-linejoin="miter" stroke-linecap="butt"/>
<line x1="412.8" y1="462" x2="412.8" y2="478" stroke="#151515" stroke-width="2.0"/>
<path d="M417.5,351.5 L424.5,351.5 L421.5,357.5 Z" fill="none" stroke="#151515" stroke-width="1.6"/>
<rect x="153" y="341.7" width="59.5" height="32.1" fill="none" stroke="#151515" stroke-width="1.8"/>
<rect x="176.4" y="445.7" width="36.5" height="30.69999999999999" fill="#d8d8d8" stroke="#151515" stroke-width="1.8"/>
<line x1="180.05" y1="445.7" x2="180.05" y2="476.4" stroke="#151515" stroke-width="1.5"/>
<line x1="183.70000000000002" y1="445.7" x2="183.70000000000002" y2="476.4" stroke="#151515" stroke-width="1.5"/>
<line x1="187.35" y1="445.7" x2="187.35" y2="476.4" stroke="#151515" stroke-width="1.5"/>
<line x1="191.0" y1="445.7" x2="191.0" y2="476.4" stroke="#151515" stroke-width="1.5"/>
<line x1="194.65" y1="445.7" x2="194.65" y2="476.4" stroke="#151515" stroke-width="1.5"/>
<line x1="198.3" y1="445.7" x2="198.3" y2="476.4" stroke="#151515" stroke-width="1.5"/>
<line x1="201.95000000000002" y1="445.7" x2="201.95000000000002" y2="476.4" stroke="#151515" stroke-width="1.5"/>
<line x1="205.6" y1="445.7" x2="205.6" y2="476.4" stroke="#151515" stroke-width="1.5"/>
<line x1="209.25" y1="445.7" x2="209.25" y2="476.4" stroke="#151515" stroke-width="1.5"/>
<path d="M424.7,261.5 L492.0,261.5" fill="none" stroke="#151515" stroke-width="6.0" stroke-linejoin="miter" stroke-linecap="butt"/>
<path d="M426.6,261.5 L490.1,261.5" fill="none" stroke="#e0e0e0" stroke-width="2.2" stroke-linejoin="miter" stroke-linecap="butt"/>
<line x1="499.4" y1="251" x2="499.4" y2="272" stroke="#151515" stroke-width="2.0"/>
<path d="M506.0,261.5 L632.0,261.5" fill="none" stroke="#151515" stroke-width="6.0" stroke-linejoin="miter" stroke-linecap="butt"/>
<path d="M507.9,261.5 L630.1,261.5" fill="none" stroke="#e0e0e0" stroke-width="2.2" stroke-linejoin="miter" stroke-linecap="butt"/>
<path d="M468.8,264.0 L468.8,288.0" fill="none" stroke="#151515" stroke-width="5.5" stroke-linejoin="miter" stroke-linecap="butt"/>
<path d="M468.8,265.6 L468.8,286.4" fill="none" stroke="#555" stroke-width="2.2" stroke-linejoin="miter" stroke-linecap="butt"/>
<line x1="460" y1="290.3" x2="478" y2="290.3" stroke="#151515" stroke-width="2.0"/>
<path d="M586.0,264.0 L586.0,288.0" fill="none" stroke="#151515" stroke-width="5.5" stroke-linejoin="miter" stroke-linecap="butt"/>
<path d="M586.0,265.6 L586.0,286.4" fill="none" stroke="#555" stroke-width="2.2" stroke-linejoin="miter" stroke-linecap="butt"/>
<line x1="577" y1="290.3" x2="595" y2="290.3" stroke="#151515" stroke-width="2.0"/>
<path d="M632.0,112.6 L632.0,101.0 L678.0,101.0 L678.0,159.0" fill="none" stroke="#151515" stroke-width="6.0" stroke-linejoin="miter" stroke-linecap="butt"/>
<path d="M632.0,110.7 L632.0,101.0 L678.0,101.0 L678.0,157.1" fill="none" stroke="#e0e0e0" stroke-width="2.2" stroke-linejoin="miter" stroke-linecap="butt"/>
<line x1="624" y1="118" x2="640" y2="118" stroke="#151515" stroke-width="2.0"/>
<path d="M632.0,124.0 L632.0,240.0" fill="none" stroke="#151515" stroke-width="6.0" stroke-linejoin="miter" stroke-linecap="butt"/>
<path d="M632.0,125.9 L632.0,238.1" fill="none" stroke="#e0e0e0" stroke-width="2.2" stroke-linejoin="miter" stroke-linecap="butt"/>
<line x1="624" y1="245.7" x2="640" y2="245.7" stroke="#151515" stroke-width="2.0"/>
<path d="M632.0,251.0 L632.0,261.5" fill="none" stroke="#151515" stroke-width="6.0" stroke-linejoin="miter" stroke-linecap="butt"/>
<path d="M632.0,252.9 L632.0,259.6" fill="none" stroke="#e0e0e0" stroke-width="2.2" stroke-linejoin="miter" stroke-linecap="butt"/>
<path d="M632.0,183.0 L676.0,183.0" fill="none" stroke="#151515" stroke-width="6" stroke-linejoin="miter" stroke-linecap="butt"/>
<path d="M633.9,183.0 L674.1,183.0" fill="none" stroke="#e0e0e0" stroke-width="2.2" stroke-linejoin="miter" stroke-linecap="butt"/>
<line x1="672.6" y1="165.4" x2="694.3" y2="165.4" stroke="#151515" stroke-width="2.0"/>
<path d="M678.0,170.0 L678.0,179.4" fill="none" stroke="#151515" stroke-width="6.0" stroke-linejoin="miter" stroke-linecap="butt"/>
<path d="M678.0,171.9 L678.0,177.5" fill="none" stroke="#e0e0e0" stroke-width="2.2" stroke-linejoin="miter" stroke-linecap="butt"/>
<path d="M678.0,150.3 L790.6,150.3 L790.6,159.8" fill="none" stroke="#151515" stroke-width="7.5" stroke-linejoin="miter" stroke-linecap="butt"/>
<path d="M680.5,150.3 L790.6,150.3 L790.6,157.3" fill="none" stroke="#8a8a8a" stroke-width="2.5" stroke-linejoin="miter" stroke-linecap="butt"/>
<line x1="781.7" y1="166.4" x2="794" y2="166.4" stroke="#151515" stroke-width="2.0"/>
<path d="M790.6,173.0 L790.6,262.0" fill="none" stroke="#151515" stroke-width="7" stroke-linejoin="miter" stroke-linecap="butt"/>
<path d="M790.6,175.3 L790.6,259.7" fill="none" stroke="#e0e0e0" stroke-width="2.4" stroke-linejoin="miter" stroke-linecap="butt"/>
<rect x="793.7" y="157.7" width="30.59999999999991" height="16.600000000000023" fill="#777" stroke="#151515" stroke-width="1.8"/>
<line x1="796.76" y1="157.7" x2="796.76" y2="174.3" stroke="#151515" stroke-width="1.3"/>
<line x1="799.82" y1="157.7" x2="799.82" y2="174.3" stroke="#151515" stroke-width="1.3"/>
<line x1="802.88" y1="157.7" x2="802.88" y2="174.3" stroke="#151515" stroke-width="1.3"/>
<line x1="805.94" y1="157.7" x2="805.94" y2="174.3" stroke="#151515" stroke-width="1.3"/>
<line x1="809.0" y1="157.7" x2="809.0" y2="174.3" stroke="#151515" stroke-width="1.3"/>
<line x1="812.06" y1="157.7" x2="812.06" y2="174.3" stroke="#151515" stroke-width="1.3"/>
<line x1="815.12" y1="157.7" x2="815.12" y2="174.3" stroke="#151515" stroke-width="1.3"/>
<line x1="818.18" y1="157.7" x2="818.18" y2="174.3" stroke="#151515" stroke-width="1.3"/>
<line x1="821.24" y1="157.7" x2="821.24" y2="174.3" stroke="#151515" stroke-width="1.3"/>
<path d="M678.0,262.3 L768.0,262.3" fill="none" stroke="#151515" stroke-width="6.0" stroke-linejoin="miter" stroke-linecap="butt"/>
<path d="M679.9,262.3 L766.1,262.3" fill="none" stroke="#e0e0e0" stroke-width="2.2" stroke-linejoin="miter" stroke-linecap="butt"/>
<line x1="775.4" y1="252" x2="775.4" y2="272" stroke="#151515" stroke-width="2.0"/>
<path d="M783.0,262.3 L836.4,262.3 L836.4,309.2 L828.0,309.2" fill="none" stroke="#151515" stroke-width="6.0" stroke-linejoin="miter" stroke-linecap="butt"/>
<path d="M784.9,262.3 L836.4,262.3 L836.4,309.2 L829.9,309.2" fill="none" stroke="#e0e0e0" stroke-width="2.2" stroke-linejoin="miter" stroke-linecap="butt"/>
<path d="M834.0,259.3 L845.0,259.3 L844.0,571.0 L792.0,571.0" fill="none" stroke="#151515" stroke-width="2.0"/>
<path d="M759.3,264.0 L759.3,306.0" fill="none" stroke="#151515" stroke-width="5" stroke-linejoin="miter" stroke-linecap="butt"/>
<path d="M759.3,265.4 L759.3,304.6" fill="none" stroke="#e0e0e0" stroke-width="2.2" stroke-linejoin="miter" stroke-linecap="butt"/>
<path d="M678.0,309.2 L688.0,309.2" fill="none" stroke="#151515" stroke-width="6.0" stroke-linejoin="miter" stroke-linecap="butt"/>
<path d="M679.9,309.2 L686.1,309.2" fill="none" stroke="#e0e0e0" stroke-width="2.2" stroke-linejoin="miter" stroke-linecap="butt"/>
<line x1="695" y1="298" x2="695" y2="319" stroke="#151515" stroke-width="2.0"/>
<path d="M702.0,309.2 L813.0,309.2" fill="none" stroke="#151515" stroke-width="6.0" stroke-linejoin="miter" stroke-linecap="butt"/>
<path d="M703.9,309.2 L811.1,309.2" fill="none" stroke="#e0e0e0" stroke-width="2.2" stroke-linejoin="miter" stroke-linecap="butt"/>
<line x1="820.7" y1="298" x2="820.7" y2="319" stroke="#151515" stroke-width="2.0"/>
<path d="M678.2,308.5 L678.2,375.0" fill="none" stroke="#151515" stroke-width="6.0" stroke-linejoin="miter" stroke-linecap="butt"/>
<path d="M678.2,310.4 L678.2,373.1" fill="none" stroke="#e0e0e0" stroke-width="2.2" stroke-linejoin="miter" stroke-linecap="butt"/>
<line x1="668" y1="381.3" x2="688" y2="381.3" stroke="#151515" stroke-width="2.0"/>
<path d="M678.2,387.0 L678.2,518.0" fill="none" stroke="#151515" stroke-width="6.0" stroke-linejoin="miter" stroke-linecap="butt"/>
<path d="M678.2,388.9 L678.2,516.1" fill="none" stroke="#e0e0e0" stroke-width="2.2" stroke-linejoin="miter" stroke-linecap="butt"/>
<path d="M650.5,355.0 L676.0,355.0" fill="none" stroke="#151515" stroke-width="5" stroke-linejoin="miter" stroke-linecap="butt"/>
<path d="M651.9,355.0 L674.6,355.0" fill="none" stroke="#e0e0e0" stroke-width="2.2" stroke-linejoin="miter" stroke-linecap="butt"/>
<line x1="643.3" y1="347" x2="643.3" y2="363" stroke="#151515" stroke-width="2.0"/>
<path d="M650.5,470.6 L676.0,470.6" fill="none" stroke="#151515" stroke-width="5" stroke-linejoin="miter" stroke-linecap="butt"/>
<path d="M651.9,470.6 L674.6,470.6" fill="none" stroke="#e0e0e0" stroke-width="2.2" stroke-linejoin="miter" stroke-linecap="butt"/>
<line x1="643.3" y1="462" x2="643.3" y2="479" stroke="#151515" stroke-width="2.0"/>
<path d="M634.0,354.8 L639.4,354.8" fill="none" stroke="#151515" stroke-width="5.2" stroke-linejoin="miter" stroke-linecap="butt"/>
<path d="M634.0,354.8 L637.6,354.8" fill="none" stroke="#e0e0e0" stroke-width="1.6" stroke-linejoin="miter" stroke-linecap="butt"/>
<path d="M634.0,470.6 L639.4,470.6" fill="none" stroke="#151515" stroke-width="5.2" stroke-linejoin="miter" stroke-linecap="butt"/>
<path d="M634.0,470.6 L637.6,470.6" fill="none" stroke="#e0e0e0" stroke-width="1.6" stroke-linejoin="miter" stroke-linecap="butt"/>
<rect x="845.5" y="347" width="34.299999999999955" height="33.39999999999998" fill="#e0e0e0" stroke="#151515" stroke-width="1.8"/>
<line x1="848.93" y1="347" x2="848.93" y2="380.4" stroke="#151515" stroke-width="1.5"/>
<line x1="852.36" y1="347" x2="852.36" y2="380.4" stroke="#151515" stroke-width="1.5"/>
<line x1="855.79" y1="347" x2="855.79" y2="380.4" stroke="#151515" stroke-width="1.5"/>
<line x1="859.22" y1="347" x2="859.22" y2="380.4" stroke="#151515" stroke-width="1.5"/>
<line x1="862.65" y1="347" x2="862.65" y2="380.4" stroke="#151515" stroke-width="1.5"/>
<line x1="866.0799999999999" y1="347" x2="866.0799999999999" y2="380.4" stroke="#151515" stroke-width="1.5"/>
<line x1="869.51" y1="347" x2="869.51" y2="380.4" stroke="#151515" stroke-width="1.5"/>
<line x1="872.9399999999999" y1="347" x2="872.9399999999999" y2="380.4" stroke="#151515" stroke-width="1.5"/>
<line x1="876.37" y1="347" x2="876.37" y2="380.4" stroke="#151515" stroke-width="1.5"/>
<rect x="845" y="451.7" width="57.2" height="32" fill="none" stroke="#151515" stroke-width="1.8"/>
<path d="M678.0,520.0 L688.0,520.0" fill="none" stroke="#151515" stroke-width="6.0" stroke-linejoin="miter" stroke-linecap="butt"/>
<path d="M679.9,520.0 L686.1,520.0" fill="none" stroke="#e0e0e0" stroke-width="2.2" stroke-linejoin="miter" stroke-linecap="butt"/>
<line x1="695" y1="507" x2="695" y2="528" stroke="#151515" stroke-width="2.0"/>
<path d="M702.0,520.0 L811.0,520.0" fill="none" stroke="#151515" stroke-width="6.0" stroke-linejoin="miter" stroke-linecap="butt"/>
<path d="M703.9,520.0 L809.1,520.0" fill="none" stroke="#e0e0e0" stroke-width="2.2" stroke-linejoin="miter" stroke-linecap="butt"/>
<line x1="818.6" y1="507.4" x2="818.6" y2="527.8" stroke="#151515" stroke-width="2.0"/>
<path d="M824.6,520.0 L835.5,520.0 L835.5,565.4 L780.0,565.4" fill="none" stroke="#151515" stroke-width="6.0" stroke-linejoin="miter" stroke-linecap="butt"/>
<path d="M826.5,520.0 L835.5,520.0 L835.5,565.4 L781.9,565.4" fill="none" stroke="#e0e0e0" stroke-width="2.2" stroke-linejoin="miter" stroke-linecap="butt"/>
<line x1="772.7" y1="555" x2="772.7" y2="576" stroke="#151515" stroke-width="2.0"/>
<path d="M765.0,565.4 L678.0,565.4" fill="none" stroke="#151515" stroke-width="6.0" stroke-linejoin="miter" stroke-linecap="butt"/>
<path d="M763.1,565.4 L679.9,565.4" fill="none" stroke="#e0e0e0" stroke-width="2.2" stroke-linejoin="miter" stroke-linecap="butt"/>
<path d="M756.7,520.0 L756.7,563.0" fill="none" stroke="#151515" stroke-width="5" stroke-linejoin="miter" stroke-linecap="butt"/>
<path d="M756.7,521.4 L756.7,561.6" fill="none" stroke="#e0e0e0" stroke-width="2.2" stroke-linejoin="miter" stroke-linecap="butt"/>
<path d="M789.9,568.0 L789.9,647.8" fill="none" stroke="#151515" stroke-width="7" stroke-linejoin="miter" stroke-linecap="butt"/>
<path d="M789.9,570.3 L789.9,645.5" fill="none" stroke="#e0e0e0" stroke-width="2.4" stroke-linejoin="miter" stroke-linecap="butt"/>
<line x1="777" y1="654.4" x2="794" y2="654.4" stroke="#151515" stroke-width="2.0"/>
<path d="M789.9,659.5 L789.9,669.4 L680.0,669.4" fill="none" stroke="#151515" stroke-width="8" stroke-linejoin="miter" stroke-linecap="butt"/>
<path d="M789.9,662.0 L789.9,669.4 L682.5,669.4" fill="none" stroke="#d4d4d4" stroke-width="3" stroke-linejoin="miter" stroke-linecap="butt"/>
<rect x="794.1" y="646.7" width="31.100000000000023" height="16.699999999999932" fill="#999" stroke="#151515" stroke-width="1.8"/>
<line x1="797.21" y1="646.7" x2="797.21" y2="663.4" stroke="#151515" stroke-width="1.3"/>
<line x1="800.32" y1="646.7" x2="800.32" y2="663.4" stroke="#151515" stroke-width="1.3"/>
<line x1="803.4300000000001" y1="646.7" x2="803.4300000000001" y2="663.4" stroke="#151515" stroke-width="1.3"/>
<line x1="806.5400000000001" y1="646.7" x2="806.5400000000001" y2="663.4" stroke="#151515" stroke-width="1.3"/>
<line x1="809.6500000000001" y1="646.7" x2="809.6500000000001" y2="663.4" stroke="#151515" stroke-width="1.3"/>
<line x1="812.76" y1="646.7" x2="812.76" y2="663.4" stroke="#151515" stroke-width="1.3"/>
<line x1="815.87" y1="646.7" x2="815.87" y2="663.4" stroke="#151515" stroke-width="1.3"/>
<line x1="818.98" y1="646.7" x2="818.98" y2="663.4" stroke="#151515" stroke-width="1.3"/>
<line x1="822.09" y1="646.7" x2="822.09" y2="663.4" stroke="#151515" stroke-width="1.3"/>
<path d="M632.0,565.8 L632.0,573.0" fill="none" stroke="#151515" stroke-width="6.0" stroke-linejoin="miter" stroke-linecap="butt"/>
<path d="M632.0,567.7 L632.0,571.1" fill="none" stroke="#e0e0e0" stroke-width="2.2" stroke-linejoin="miter" stroke-linecap="butt"/>
<line x1="624" y1="580.4" x2="640" y2="580.4" stroke="#151515" stroke-width="2.0"/>
<path d="M632.0,586.0 L632.0,698.0" fill="none" stroke="#151515" stroke-width="6.0" stroke-linejoin="miter" stroke-linecap="butt"/>
<path d="M632.0,587.9 L632.0,696.1" fill="none" stroke="#e0e0e0" stroke-width="2.2" stroke-linejoin="miter" stroke-linecap="butt"/>
<line x1="624" y1="705.9" x2="640" y2="705.9" stroke="#151515" stroke-width="2.0"/>
<path d="M632.0,711.7 L632.0,721.8 L679.0,721.8 L679.0,663.0" fill="none" stroke="#151515" stroke-width="6.0" stroke-linejoin="miter" stroke-linecap="butt"/>
<path d="M632.0,713.6 L632.0,721.8 L679.0,721.8 L679.0,664.9" fill="none" stroke="#e0e0e0" stroke-width="2.2" stroke-linejoin="miter" stroke-linecap="butt"/>
<line x1="670" y1="656" x2="690" y2="656" stroke="#151515" stroke-width="2.0"/>
<path d="M679.0,643.0 L679.0,649.0" fill="none" stroke="#151515" stroke-width="6.0" stroke-linejoin="miter" stroke-linecap="butt"/>
<path d="M679.0,644.9 L679.0,647.1" fill="none" stroke="#e0e0e0" stroke-width="2.2" stroke-linejoin="miter" stroke-linecap="butt"/>
<path d="M632.0,640.0 L677.0,640.0" fill="none" stroke="#151515" stroke-width="5" stroke-linejoin="miter" stroke-linecap="butt"/>
<path d="M633.4,640.0 L675.6,640.0" fill="none" stroke="#e0e0e0" stroke-width="2.2" stroke-linejoin="miter" stroke-linecap="butt"/>
<path d="M229.0,514.4 L222.3,514.4 L222.3,562.2 L278.4,562.2" fill="none" stroke="#151515" stroke-width="8" stroke-linejoin="miter" stroke-linecap="butt"/>
<path d="M226.0,514.4 L222.3,514.4 L222.3,562.2 L275.4,562.2" fill="none" stroke="#e0e0e0" stroke-width="2" stroke-linejoin="miter" stroke-linecap="butt"/>
<line x1="236" y1="504" x2="236" y2="525" stroke="#151515" stroke-width="2.0"/>
<path d="M243.0,514.4 L357.0,514.4" fill="none" stroke="#151515" stroke-width="6.0" stroke-linejoin="miter" stroke-linecap="butt"/>
<path d="M244.9,514.4 L355.1,514.4" fill="none" stroke="#e0e0e0" stroke-width="2.2" stroke-linejoin="miter" stroke-linecap="butt"/>
<line x1="363" y1="504" x2="363" y2="525" stroke="#151515" stroke-width="2.0"/>
<path d="M370.0,514.4 L380.0,514.4" fill="none" stroke="#151515" stroke-width="6.0" stroke-linejoin="miter" stroke-linecap="butt"/>
<path d="M371.9,514.4 L378.1,514.4" fill="none" stroke="#e0e0e0" stroke-width="2.2" stroke-linejoin="miter" stroke-linecap="butt"/>
<line x1="284.5" y1="552.2" x2="284.5" y2="570.2" stroke="#151515" stroke-width="2.0"/>
<path d="M289.2,562.2 L377.0,562.2" fill="none" stroke="#151515" stroke-width="8" stroke-linejoin="miter" stroke-linecap="butt"/>
<path d="M292.2,562.2 L374.0,562.2" fill="none" stroke="#e0e0e0" stroke-width="2" stroke-linejoin="miter" stroke-linecap="butt"/>
<path d="M301.8,517.0 L301.8,561.0" fill="none" stroke="#151515" stroke-width="5" stroke-linejoin="miter" stroke-linecap="butt"/>
<path d="M301.8,518.4 L301.8,559.6" fill="none" stroke="#e0e0e0" stroke-width="2.2" stroke-linejoin="miter" stroke-linecap="butt"/>
<path d="M267.2,565.0 L267.2,646.4" fill="none" stroke="#151515" stroke-width="7.5" stroke-linejoin="miter" stroke-linecap="butt"/>
<path d="M267.2,567.5 L267.2,643.9" fill="none" stroke="#8a8a8a" stroke-width="2.4" stroke-linejoin="miter" stroke-linecap="butt"/>
<line x1="263" y1="651.1" x2="280.3" y2="651.1" stroke="#151515" stroke-width="2.0"/>
<path d="M267.2,656.2 L267.2,666.6 L379.0,666.6" fill="none" stroke="#151515" stroke-width="8" stroke-linejoin="miter" stroke-linecap="butt"/>
<path d="M267.2,658.7 L267.2,666.6 L376.5,666.6" fill="none" stroke="#d4d4d4" stroke-width="3" stroke-linejoin="miter" stroke-linecap="butt"/>
<rect x="233.4" y="642.7" width="29.799999999999983" height="16.399999999999977" fill="#888" stroke="#151515" stroke-width="1.8"/>
<line x1="236.38" y1="642.7" x2="236.38" y2="659.1" stroke="#151515" stroke-width="1.3"/>
<line x1="239.36" y1="642.7" x2="239.36" y2="659.1" stroke="#151515" stroke-width="1.3"/>
<line x1="242.34" y1="642.7" x2="242.34" y2="659.1" stroke="#151515" stroke-width="1.3"/>
<line x1="245.32" y1="642.7" x2="245.32" y2="659.1" stroke="#151515" stroke-width="1.3"/>
<line x1="248.3" y1="642.7" x2="248.3" y2="659.1" stroke="#151515" stroke-width="1.3"/>
<line x1="251.28" y1="642.7" x2="251.28" y2="659.1" stroke="#151515" stroke-width="1.3"/>
<line x1="254.26" y1="642.7" x2="254.26" y2="659.1" stroke="#151515" stroke-width="1.3"/>
<line x1="257.24" y1="642.7" x2="257.24" y2="659.1" stroke="#151515" stroke-width="1.3"/>
<line x1="260.21999999999997" y1="642.7" x2="260.21999999999997" y2="659.1" stroke="#151515" stroke-width="1.3"/>
<path d="M423.5,566.0 L423.5,571.0" fill="none" stroke="#151515" stroke-width="6.0" stroke-linejoin="miter" stroke-linecap="butt"/>
<path d="M423.5,567.9 L423.5,569.1" fill="none" stroke="#e0e0e0" stroke-width="2.2" stroke-linejoin="miter" stroke-linecap="butt"/>
<line x1="415" y1="577.3" x2="432" y2="577.3" stroke="#151515" stroke-width="2.0"/>
<path d="M423.5,584.0 L423.5,695.4" fill="none" stroke="#151515" stroke-width="6.0" stroke-linejoin="miter" stroke-linecap="butt"/>
<path d="M423.5,585.9 L423.5,693.5" fill="none" stroke="#e0e0e0" stroke-width="2.2" stroke-linejoin="miter" stroke-linecap="butt"/>
<line x1="412.4" y1="701" x2="433.7" y2="701" stroke="#151515" stroke-width="2.0"/>
<path d="M423.5,707.0 L423.5,717.5 L378.8,717.5 L378.8,658.3" fill="none" stroke="#151515" stroke-width="6.0" stroke-linejoin="miter" stroke-linecap="butt"/>
<path d="M423.5,708.9 L423.5,717.5 L378.8,717.5 L378.8,660.2" fill="none" stroke="#e0e0e0" stroke-width="2.2" stroke-linejoin="miter" stroke-linecap="butt"/>
<line x1="368.8" y1="651.9" x2="388.3" y2="651.9" stroke="#151515" stroke-width="2.0"/>
<path d="M378.8,640.0 L378.8,645.5" fill="none" stroke="#151515" stroke-width="6.0" stroke-linejoin="miter" stroke-linecap="butt"/>
<path d="M378.8,641.9 L378.8,643.6" fill="none" stroke="#e0e0e0" stroke-width="2.2" stroke-linejoin="miter" stroke-linecap="butt"/>
<path d="M381.0,638.0 L422.0,638.0" fill="none" stroke="#151515" stroke-width="5" stroke-linejoin="miter" stroke-linecap="butt"/>
<path d="M382.4,638.0 L420.6,638.0" fill="none" stroke="#e0e0e0" stroke-width="2.2" stroke-linejoin="miter" stroke-linecap="butt"/>
<path d="M426.0,563.0 L552.3,563.0" fill="none" stroke="#151515" stroke-width="6.0" stroke-linejoin="miter" stroke-linecap="butt"/>
<path d="M427.9,563.0 L550.4,563.0" fill="none" stroke="#e0e0e0" stroke-width="2.2" stroke-linejoin="miter" stroke-linecap="butt"/>
<line x1="556.6" y1="553" x2="556.6" y2="568" stroke="#151515" stroke-width="2.0"/>
<path d="M561.9,563.0 L630.0,563.0" fill="none" stroke="#151515" stroke-width="6.0" stroke-linejoin="miter" stroke-linecap="butt"/>
<path d="M563.8,563.0 L628.1,563.0" fill="none" stroke="#e0e0e0" stroke-width="2.2" stroke-linejoin="miter" stroke-linecap="butt"/>
<path d="M470.2,531.0 L470.2,561.0" fill="none" stroke="#151515" stroke-width="5.5" stroke-linejoin="miter" stroke-linecap="butt"/>
<path d="M470.2,532.6 L470.2,559.4" fill="none" stroke="#555" stroke-width="2.2" stroke-linejoin="miter" stroke-linecap="butt"/>
<line x1="463.7" y1="527.3" x2="478.7" y2="527.3" stroke="#151515" stroke-width="2.0"/>
<path d="M586.5,531.0 L586.5,561.0" fill="none" stroke="#151515" stroke-width="5.5" stroke-linejoin="miter" stroke-linecap="butt"/>
<path d="M586.5,532.6 L586.5,559.4" fill="none" stroke="#555" stroke-width="2.2" stroke-linejoin="miter" stroke-linecap="butt"/>
<line x1="579" y1="527.3" x2="594" y2="527.3" stroke="#151515" stroke-width="2.0"/>
<rect x="423" y="458" width="46" height="22" fill="#f6f6f6"/>
<rect x="422.5" y="482.5" width="19.5" height="16.5" fill="#fafafa"/>
<line x1="422" y1="490.8" x2="442" y2="490.8" stroke="#151515" stroke-width="1.8"/>
<clipPath id="stclip"><path d="M442,480.3 L467.4,480.3 L487,499.5 L442,499.5 Z"/></clipPath>
<path d="M442,480.3 L467.4,480.3 L487,499.5 L442,499.5 Z" fill="#f4f4f4" stroke="#151515" stroke-width="1.8"/>
<g clip-path="url(#stclip)"><line x1="444.9" y1="480" x2="444.9" y2="500" stroke="#151515" stroke-width="1.4"/><line x1="447.8" y1="480" x2="447.8" y2="500" stroke="#151515" stroke-width="1.4"/><line x1="450.7" y1="480" x2="450.7" y2="500" stroke="#151515" stroke-width="1.4"/><line x1="453.6" y1="480" x2="453.6" y2="500" stroke="#151515" stroke-width="1.4"/><line x1="456.5" y1="480" x2="456.5" y2="500" stroke="#151515" stroke-width="1.4"/><line x1="459.4" y1="480" x2="459.4" y2="500" stroke="#151515" stroke-width="1.4"/><line x1="462.3" y1="480" x2="462.3" y2="500" stroke="#151515" stroke-width="1.4"/><line x1="465.2" y1="480" x2="465.2" y2="500" stroke="#151515" stroke-width="1.4"/><line x1="468.1" y1="480" x2="468.1" y2="500" stroke="#151515" stroke-width="1.4"/><line x1="471.0" y1="480" x2="471.0" y2="500" stroke="#151515" stroke-width="1.4"/><line x1="473.9" y1="480" x2="473.9" y2="500" stroke="#151515" stroke-width="1.4"/><line x1="476.8" y1="480" x2="476.8" y2="500" stroke="#151515" stroke-width="1.4"/><line x1="479.7" y1="480" x2="479.7" y2="500" stroke="#151515" stroke-width="1.4"/><line x1="482.6" y1="480" x2="482.6" y2="500" stroke="#151515" stroke-width="1.4"/><line x1="485.5" y1="480" x2="485.5" y2="500" stroke="#151515" stroke-width="1.4"/></g>
<line x1="442" y1="490.8" x2="478" y2="490.8" stroke="#151515" stroke-width="1.4"/>
<line x1="466.5" y1="478.4" x2="496.2" y2="505.6" stroke="#151515" stroke-width="1.8"/>
<circle cx="461" cy="101" r="2.6" fill="#151515"/>
<circle cx="461" cy="180.7" r="2.6" fill="#151515"/>
<circle cx="496" cy="101" r="2.6" fill="#151515"/>
<circle cx="496" cy="180.7" r="2.6" fill="#151515"/>
<circle cx="530.8" cy="101" r="2.6" fill="#151515"/>
<circle cx="530.8" cy="180.7" r="2.6" fill="#151515"/>
<circle cx="564.4" cy="101" r="2.6" fill="#151515"/>
<circle cx="564.4" cy="180.7" r="2.6" fill="#151515"/>
<circle cx="600" cy="101" r="2.6" fill="#151515"/>
<circle cx="600" cy="180.7" r="2.6" fill="#151515"/>
<circle cx="459.3" cy="637.4" r="2.6" fill="#151515"/>
<circle cx="459.3" cy="718.4" r="2.6" fill="#151515"/>
<circle cx="494.3" cy="638.17" r="2.6" fill="#151515"/>
<circle cx="494.3" cy="718.68" r="2.6" fill="#151515"/>
<circle cx="529.2" cy="638.9377999999999" r="2.6" fill="#151515"/>
<circle cx="529.2" cy="718.9592" r="2.6" fill="#151515"/>
<circle cx="564.9" cy="639.7232" r="2.6" fill="#151515"/>
<circle cx="564.9" cy="719.2447999999999" r="2.6" fill="#151515"/>
<circle cx="599.8" cy="640.491" r="2.6" fill="#151515"/>
<circle cx="599.8" cy="719.524" r="2.6" fill="#151515"/>
<circle cx="222" cy="341.7" r="2.6" fill="#151515"/>
<circle cx="301.5" cy="341.7" r="2.6" fill="#151515"/>
<circle cx="222" cy="374.5" r="2.6" fill="#151515"/>
<circle cx="301.5" cy="374.5" r="2.6" fill="#151515"/>
<circle cx="222" cy="410" r="2.6" fill="#151515"/>
<circle cx="301.5" cy="410" r="2.6" fill="#151515"/>
<circle cx="222" cy="446" r="2.6" fill="#151515"/>
<circle cx="301.5" cy="446" r="2.6" fill="#151515"/>
<circle cx="222" cy="478.5" r="2.6" fill="#151515"/>
<circle cx="301.5" cy="478.5" r="2.6" fill="#151515"/>
<circle cx="758.2" cy="341.7" r="2.6" fill="#151515"/>
<circle cx="835.3" cy="341.7" r="2.6" fill="#151515"/>
<circle cx="758.2" cy="377.5" r="2.6" fill="#151515"/>
<circle cx="835.3" cy="377.5" r="2.6" fill="#151515"/>
<circle cx="758.2" cy="414.4" r="2.6" fill="#151515"/>
<circle cx="835.3" cy="414.4" r="2.6" fill="#151515"/>
<circle cx="758.2" cy="448.2" r="2.6" fill="#151515"/>
<circle cx="835.3" cy="448.2" r="2.6" fill="#151515"/>
<circle cx="758.2" cy="482.8" r="2.6" fill="#151515"/>
<circle cx="835.3" cy="482.8" r="2.6" fill="#151515"/>
<rect x="463" y="54.6" width="31.600000000000023" height="37.99999999999999" fill="none" stroke="#151515" stroke-width="1.8"/>
<line x1="463" y1="58.4" x2="494.6" y2="58.4" stroke="#151515" stroke-width="1.3"/>
<line x1="463" y1="62.2" x2="494.6" y2="62.2" stroke="#151515" stroke-width="1.3"/>
<line x1="463" y1="66.0" x2="494.6" y2="66.0" stroke="#151515" stroke-width="1.3"/>
<line x1="463" y1="69.8" x2="494.6" y2="69.8" stroke="#151515" stroke-width="1.3"/>
<line x1="463" y1="73.6" x2="494.6" y2="73.6" stroke="#151515" stroke-width="1.3"/>
<line x1="463" y1="77.39999999999999" x2="494.6" y2="77.39999999999999" stroke="#151515" stroke-width="1.3"/>
<line x1="463" y1="81.19999999999999" x2="494.6" y2="81.19999999999999" stroke="#151515" stroke-width="1.3"/>
<line x1="463" y1="85.0" x2="494.6" y2="85.0" stroke="#151515" stroke-width="1.3"/>
<line x1="463" y1="88.8" x2="494.6" y2="88.8" stroke="#151515" stroke-width="1.3"/>
<rect x="565.6" y="35" width="32.4" height="57.5" fill="none" stroke="#151515" stroke-width="1.8"/>
<line x1="380.2" y1="723.8" x2="380.2" y2="823" stroke="#151515" stroke-width="1.7"/>
<line x1="423.8" y1="724.5" x2="423.8" y2="810.5" stroke="#151515" stroke-width="1.7"/>
<path d="M461.5,725.4 L461.5,782.0 L492.3,782.0 L492.3,725.9" fill="none" stroke="#151515" stroke-width="1.7"/>
<line x1="477.2" y1="705" x2="477.2" y2="782" stroke="#151515" stroke-width="1.6"/>
<rect x="565.9" y="727" width="30.399999999999977" height="37.5" fill="none" stroke="#151515" stroke-width="1.8"/>
<line x1="565.9" y1="730.75" x2="596.3" y2="730.75" stroke="#151515" stroke-width="1.3"/>
<line x1="565.9" y1="734.5" x2="596.3" y2="734.5" stroke="#151515" stroke-width="1.3"/>
<line x1="565.9" y1="738.25" x2="596.3" y2="738.25" stroke="#151515" stroke-width="1.3"/>
<line x1="565.9" y1="742.0" x2="596.3" y2="742.0" stroke="#151515" stroke-width="1.3"/>
<line x1="565.9" y1="745.75" x2="596.3" y2="745.75" stroke="#151515" stroke-width="1.3"/>
<line x1="565.9" y1="749.5" x2="596.3" y2="749.5" stroke="#151515" stroke-width="1.3"/>
<line x1="565.9" y1="753.25" x2="596.3" y2="753.25" stroke="#151515" stroke-width="1.3"/>
<line x1="565.9" y1="757.0" x2="596.3" y2="757.0" stroke="#151515" stroke-width="1.3"/>
<line x1="565.9" y1="760.75" x2="596.3" y2="760.75" stroke="#151515" stroke-width="1.3"/>
<line x1="581.3" y1="705" x2="581.3" y2="781.6" stroke="#151515" stroke-width="1.6"/>
<line x1="632.6" y1="728" x2="632.6" y2="804" stroke="#151515" stroke-width="1.7"/>
<line x1="677.7" y1="728.4" x2="677.7" y2="826.5" stroke="#151515" stroke-width="1.7"/>
<line x1="380.2" y1="801.4" x2="677.7" y2="804.1" stroke="#151515" stroke-width="1.8"/>
<line x1="380.2" y1="822.1" x2="677.7" y2="826.2" stroke="#151515" stroke-width="1.8"/>
<text x="527.3" y="160.9" font-family="Liberation Serif" font-size="16" text-anchor="middle" textLength="73" lengthAdjust="spacingAndGlyphs" class="b">Сюаньтан</text>
<text x="278.3" y="398.7" font-family="Liberation Serif" font-size="16" text-anchor="middle" textLength="83" lengthAdjust="spacingAndGlyphs" class="b">Цзунчжан</text>
<text x="772.4" y="406.4" font-family="Liberation Serif" font-size="17" text-anchor="middle" textLength="57" lengthAdjust="spacingAndGlyphs" class="b">Цинъян</text>
<text x="529.5" y="667" font-family="Liberation Serif" font-size="16" text-anchor="middle" textLength="59" lengthAdjust="spacingAndGlyphs" class="b">Миньтан</text>
<text x="399.6" y="142.2" font-family="Liberation Serif" font-size="16.5" text-anchor="middle" textLength="25" lengthAdjust="spacingAndGlyphs" class="b">пан</text>
<text x="400" y="223.5" font-family="Liberation Serif" font-size="16.5" text-anchor="middle" textLength="25" lengthAdjust="spacingAndGlyphs" class="b">пан</text>
<text x="653.5" y="142" font-family="Liberation Serif" font-size="16.5" text-anchor="middle" textLength="25" lengthAdjust="spacingAndGlyphs" class="b">пан</text>
<text x="653.5" y="223.7" font-family="Liberation Serif" font-size="16.5" text-anchor="middle" textLength="25" lengthAdjust="spacingAndGlyphs" class="b">пан</text>
<text x="327.5" y="172" font-family="Liberation Serif" font-size="16.5" text-anchor="middle" textLength="25" lengthAdjust="spacingAndGlyphs" class="b">сян</text>
<text x="739" y="172" font-family="Liberation Serif" font-size="16.5" text-anchor="middle" textLength="25" lengthAdjust="spacingAndGlyphs" class="b">сян</text>
<text x="257" y="285.4" font-family="Liberation Serif" font-size="16.5" text-anchor="middle" textLength="25" lengthAdjust="spacingAndGlyphs" class="b">пан</text>
<text x="335" y="285.4" font-family="Liberation Serif" font-size="16.5" text-anchor="middle" textLength="25" lengthAdjust="spacingAndGlyphs" class="b">пан</text>
<text x="722" y="288" font-family="Liberation Serif" font-size="16.5" text-anchor="middle" textLength="25" lengthAdjust="spacingAndGlyphs" class="b">пан</text>
<text x="796" y="288" font-family="Liberation Serif" font-size="16.5" text-anchor="middle" textLength="25" lengthAdjust="spacingAndGlyphs" class="b">пан</text>
<text x="446" y="284" font-family="Liberation Serif" font-size="16.5" text-anchor="middle" textLength="25" lengthAdjust="spacingAndGlyphs" class="b">цзя</text>
<text x="528.7" y="284" font-family="Liberation Serif" font-size="16.5" text-anchor="middle" textLength="20" lengthAdjust="spacingAndGlyphs" class="b">ши</text>
<text x="606.5" y="284" font-family="Liberation Serif" font-size="16.5" text-anchor="middle" textLength="25" lengthAdjust="spacingAndGlyphs" class="b">цзя</text>
<text x="401.4" y="336" font-family="Liberation Serif" font-size="16.5" text-anchor="middle" textLength="25" lengthAdjust="spacingAndGlyphs" class="b">цзя</text>
<text x="401" y="410" font-family="Liberation Serif" font-size="16.5" text-anchor="middle" textLength="20" lengthAdjust="spacingAndGlyphs" class="b">ши</text>
<text x="401" y="500" font-family="Liberation Serif" font-size="16.5" text-anchor="middle" textLength="25" lengthAdjust="spacingAndGlyphs" class="b">цзя</text>
<text x="654.3" y="333.5" font-family="Liberation Serif" font-size="16.5" text-anchor="middle" textLength="25" lengthAdjust="spacingAndGlyphs" class="b">цзя</text>
<text x="654.3" y="409.7" font-family="Liberation Serif" font-size="16.5" text-anchor="middle" textLength="20" lengthAdjust="spacingAndGlyphs" class="b">ши</text>
<text x="654.3" y="493" font-family="Liberation Serif" font-size="16.5" text-anchor="middle" textLength="25" lengthAdjust="spacingAndGlyphs" class="b">цзя</text>
<text x="258.4" y="538.8" font-family="Liberation Serif" font-size="16.5" text-anchor="middle" textLength="25" lengthAdjust="spacingAndGlyphs" class="b">пан</text>
<text x="335" y="538.8" font-family="Liberation Serif" font-size="16.5" text-anchor="middle" textLength="25" lengthAdjust="spacingAndGlyphs" class="b">пан</text>
<text x="717.5" y="544.5" font-family="Liberation Serif" font-size="16.5" text-anchor="middle" textLength="25" lengthAdjust="spacingAndGlyphs" class="b">пан</text>
<text x="796" y="544.5" font-family="Liberation Serif" font-size="16.5" text-anchor="middle" textLength="25" lengthAdjust="spacingAndGlyphs" class="b">пан</text>
<text x="447.7" y="542.4" font-family="Liberation Serif" font-size="16.5" text-anchor="middle" textLength="25" lengthAdjust="spacingAndGlyphs" class="b">цзя</text>
<text x="528.8" y="542.4" font-family="Liberation Serif" font-size="16.5" text-anchor="middle" textLength="20" lengthAdjust="spacingAndGlyphs" class="b">ши</text>
<text x="605.7" y="542.4" font-family="Liberation Serif" font-size="16.5" text-anchor="middle" textLength="25" lengthAdjust="spacingAndGlyphs" class="b">цзя</text>
<text x="327" y="656" font-family="Liberation Serif" font-size="16.5" text-anchor="middle" textLength="25" lengthAdjust="spacingAndGlyphs" class="b">сян</text>
<text x="717.5" y="655.7" font-family="Liberation Serif" font-size="16.5" text-anchor="middle" textLength="25" lengthAdjust="spacingAndGlyphs" class="b">сян</text>
<text x="402" y="600" font-family="Liberation Serif" font-size="16.5" text-anchor="middle" textLength="27" lengthAdjust="spacingAndGlyphs" class="b">фан</text>
<text x="402" y="680" font-family="Liberation Serif" font-size="16.5" text-anchor="middle" textLength="27" lengthAdjust="spacingAndGlyphs" class="b">фан</text>
<text x="654.3" y="603.3" font-family="Liberation Serif" font-size="16.5" text-anchor="middle" textLength="27" lengthAdjust="spacingAndGlyphs" class="b">фан</text>
<text x="654.3" y="679.5" font-family="Liberation Serif" font-size="16.5" text-anchor="middle" textLength="27" lengthAdjust="spacingAndGlyphs" class="b">фан</text>
<text x="827.4" y="679" font-family="Liberation Serif" font-size="16" text-anchor="middle" textLength="56" lengthAdjust="spacingAndGlyphs">боковая</text>
<text x="833" y="693" font-family="Liberation Serif" font-size="16" text-anchor="middle" textLength="68" lengthAdjust="spacingAndGlyphs">лестница</text>
<text x="401.4" y="796.6" font-family="Liberation Serif" font-size="15" text-anchor="middle" textLength="33.6" lengthAdjust="spacingAndGlyphs" class="b">2яня</text>
<text x="532.4" y="798" font-family="Liberation Serif" font-size="15" text-anchor="middle" textLength="107" lengthAdjust="spacingAndGlyphs" class="b">9яней(18.225м)</text>
<text x="655.8" y="797" font-family="Liberation Serif" font-size="15" text-anchor="middle" textLength="32.2" lengthAdjust="spacingAndGlyphs" class="b">2яня</text>
<text x="544.5" y="818" font-family="Liberation Serif" font-size="15" text-anchor="middle" textLength="125" lengthAdjust="spacingAndGlyphs" class="b">13яней ( 26.325м)</text>
<text x="652.4" y="818.4" font-family="Liberation Serif" font-size="15" text-anchor="middle" textLength="47.2" lengthAdjust="spacingAndGlyphs" class="b">(4.05м)</text>
<text x="441.5" y="730" font-family="Liberation Serif" font-size="17" text-anchor="end" textLength="68" lengthAdjust="spacingAndGlyphs" transform="rotate(-90 441.5 730)">лестница</text>
<text x="455" y="730" font-family="Liberation Serif" font-size="17" text-anchor="end" textLength="38" lengthAdjust="spacingAndGlyphs" transform="rotate(-90 455 730)">гостя</text>
<text x="609.5" y="731" font-family="Liberation Serif" font-size="17" text-anchor="end" textLength="67" lengthAdjust="spacingAndGlyphs" transform="rotate(-90 609.5 731)">лестница</text>
<text x="623" y="733" font-family="Liberation Serif" font-size="17" text-anchor="end" textLength="57" lengthAdjust="spacingAndGlyphs" transform="rotate(-90 623 733)">хозяина</text>
<text x="140.7" y="772.9" font-family="Liberation Sans" font-size="22" text-anchor="middle">0</text>
<text x="196.4" y="772.9" font-family="Liberation Sans" font-size="22" text-anchor="middle">5</text>
<text x="254" y="772.9" font-family="Liberation Sans" font-size="22" text-anchor="middle">10</text>
<text x="297.7" y="772.9" font-family="Liberation Sans" font-size="22" text-anchor="start" textLength="38.5" lengthAdjust="spacingAndGlyphs">15м</text>
<path d="M140.7,781.6 L140.7,789.2 L311.3,789.2 L311.3,781.6" fill="none" stroke="#151515" stroke-width="2.2"/>
<line x1="196.4" y1="781.6" x2="196.4" y2="789.2" stroke="#151515" stroke-width="2.0"/>
<line x1="254" y1="781.6" x2="254" y2="789.2" stroke="#151515" stroke-width="2.0"/>
<text x="231.5" y="811.5" font-family="Liberation Sans" font-size="15.5" text-anchor="middle" textLength="215" lengthAdjust="spacingAndGlyphs">(1 янь=9чи; 1чи=0,225м)</text>
<text x="867.4" y="78.7" font-family="Liberation Sans" font-size="23.5" text-anchor="middle">C</text>
<line x1="867.2" y1="100" x2="867.2" y2="230" stroke="#151515" stroke-width="2.0"/>
<path d="M867.2,89.7 L858,105 L867.2,101 L876.4,105 Z" fill="#151515"/>
<rect x="521" y="401" width="21" height="22" fill="#f7f7f7"/>
<g stroke="#151515" stroke-width="2" fill="none"><path d="M526,404.5 L526,419.5 M523.8,410 L528.3,410 M523.5,419 L528.5,417.5"/></g>
<rect x="529" y="404.5" width="10" height="15.3" fill="#151515"/>
<g stroke="#f0f0f0" stroke-width="0.9"><path d="M530.5,408 L537.5,408 M530.5,411.8 L537.5,411.8 M530.5,415.6 L537.5,415.6"/></g>
<g stroke="#151515" stroke-width="2.6" fill="none"><path d="M430,466 L443,466 M437,462 L431,477 M436,471 L443,471 M439.5,471 L439.5,477.5 M434,477.5 L444,477.5"/><path d="M447,464 L452,464 M449.5,462 L449.5,466 M446.5,467 L452.5,467 L451,477 M448.5,467 L446.5,477 M454,463 L461,463 M455,466 L461,466 M457,466 L456,478 M457,472 L461,478"/></g>
<path d="M417.6,468.8 L424,465.8 L424,471.8 Z" fill="#151515"/>
</g>
</svg></body></html>
